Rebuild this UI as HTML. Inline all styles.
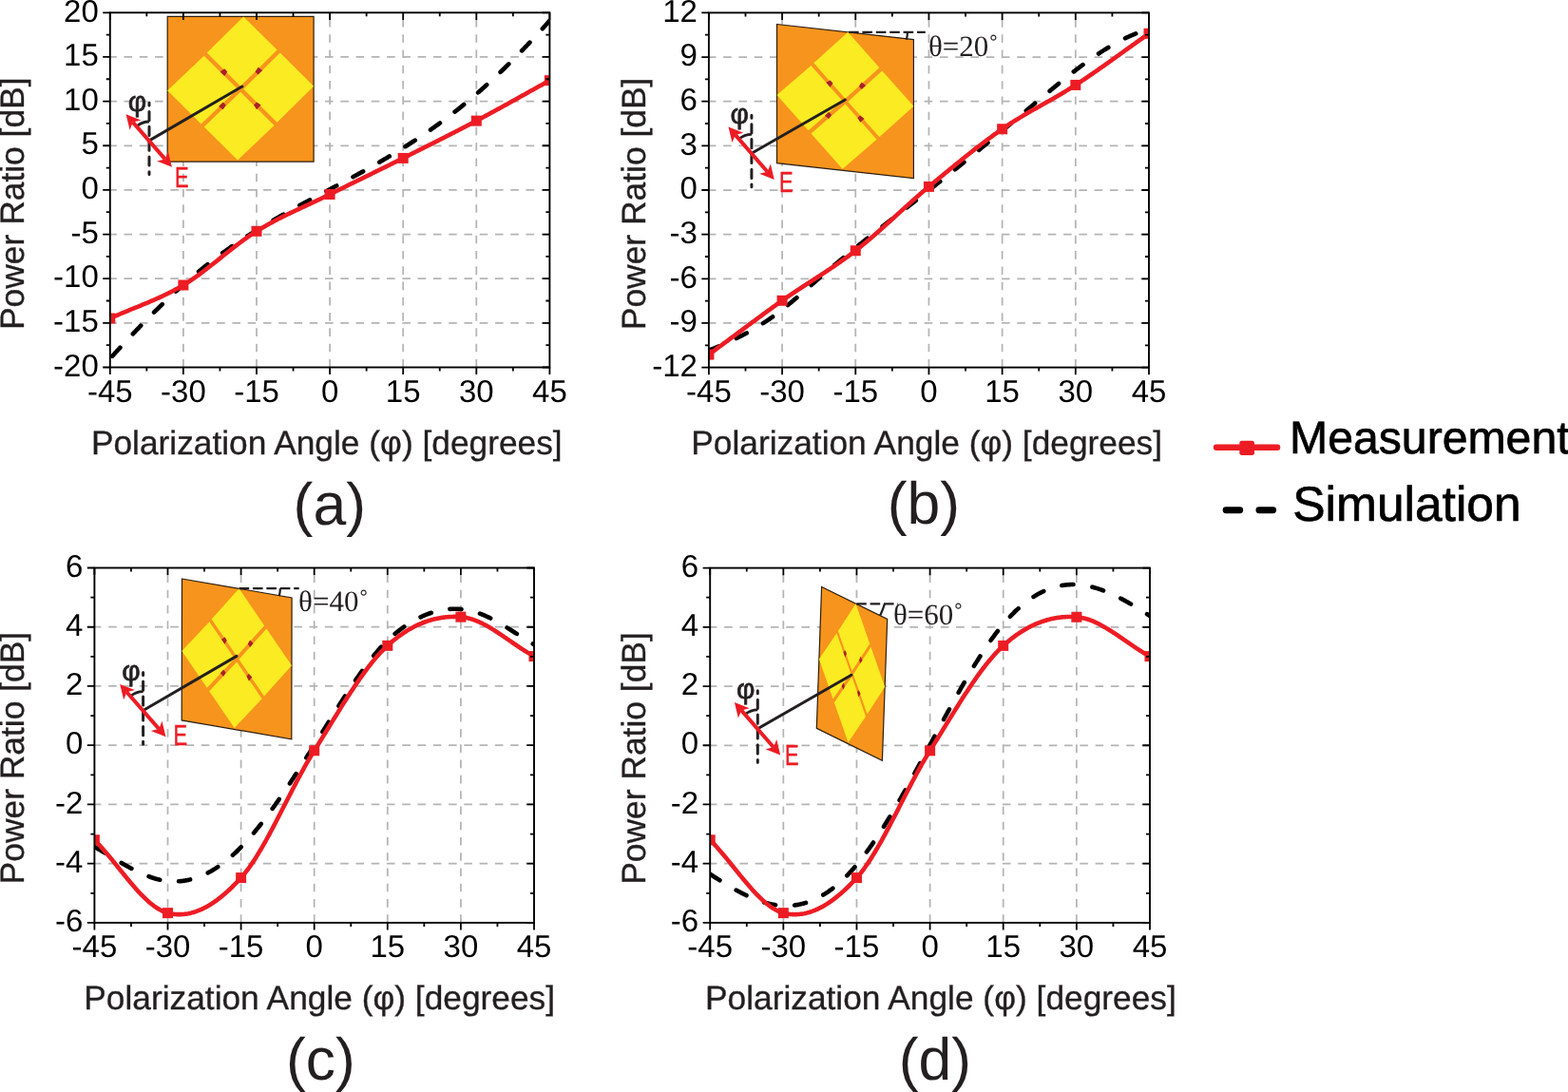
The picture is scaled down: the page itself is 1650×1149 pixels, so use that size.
<!DOCTYPE html><html><head><meta charset="utf-8"><title>Power ratio vs polarization angle</title><style>html,body{margin:0;padding:0;background:#fff;overflow:hidden;}text{text-rendering:geometricPrecision;}svg{display:block;}.t{font-family:"Liberation Sans",Arial,sans-serif;}.s{font-family:"Liberation Serif","Times New Roman",serif;}</style></head><body>
<svg width="1650" height="1149" viewBox="0 0 1650 1149">
<rect width="1650" height="1149" fill="#fff"/>
<defs>
<clipPath id="cpa"><rect x="115.8" y="13.3" width="462.6" height="373.2"/></clipPath>
<clipPath id="cpb"><rect x="745.9" y="13.4" width="463.1" height="373.2"/></clipPath>
<clipPath id="cpc"><rect x="99.4" y="597.5" width="462.6" height="373.4"/></clipPath>
<clipPath id="cpd"><rect x="747.2" y="597.6" width="462.8" height="373.3"/></clipPath>
</defs>
<path d="M578.4 339.85H115.8M578.4 293.2H115.8M578.4 246.55H115.8M578.4 199.9H115.8M578.4 153.25H115.8M578.4 106.6H115.8M578.4 59.95H115.8M192.9 386.5V13.3M270 386.5V13.3M347.1 386.5V13.3M424.2 386.5V13.3M501.3 386.5V13.3" stroke="#B4B4B4" stroke-width="1.75" stroke-dasharray="8.6 7.67" fill="none"/>
<g transform="matrix(153.9 0 0 152.7 176.2 17.4)"><path d="M0 0H1V1H0Z" fill="#F7941D" stroke="#2b1d10" stroke-width="1.2" vector-effect="non-scaling-stroke"/><path d="M0.52 -0 L0.75 0.23 L0.5 0.48 L0.27 0.25 Z" fill="#FBEB22"/><path d="M0.25 0.27 L0.48 0.5 L0.23 0.74 L0 0.51 Z" fill="#FBEB22"/><path d="M0.77 0.25 L1 0.48 L0.75 0.73 L0.52 0.5 Z" fill="#FBEB22"/><path d="M0.5 0.52 L0.73 0.75 L0.48 0.99 L0.25 0.76 Z" fill="#FBEB22"/><path d="M0.39 0.36 L0.41 0.38 L0.39 0.41 L0.36 0.38 Z" fill="#A8202A"/><path d="M0.65 0.37 L0.62 0.4 L0.6 0.38 L0.62 0.35 Z" fill="#A8202A"/><path d="M0.35 0.62 L0.38 0.59 L0.4 0.61 L0.38 0.64 Z" fill="#A8202A"/><path d="M0.61 0.64 L0.59 0.61 L0.61 0.59 L0.64 0.61 Z" fill="#A8202A"/></g>
<line x1="158" y1="147.4" x2="254.8" y2="91" stroke="#231F20" stroke-width="3.0" stroke-linecap="round"/><line x1="157" y1="108" x2="157" y2="183.4" stroke="#231F20" stroke-width="3.0" stroke-linecap="round" stroke-dasharray="9.2 6.6" stroke-dashoffset="6.3"/><path d="M143.78 132.99 A20 20 0 0 1 157 128" fill="none" stroke="#231F20" stroke-width="2.8"/><line x1="139.83" y1="128.59" x2="173.67" y2="167.41" stroke="#ED1C24" stroke-width="4.0"/><path d="M132.6 120.3L136.58 136.73L139.83 128.59L148.34 126.48Z" fill="#ED1C24"/><path d="M180.9 175.7L165.16 169.52L173.67 167.41L176.92 159.27Z" fill="#ED1C24"/><text class="t" x="134.7" y="116.6" font-size="30" fill="#231F20" stroke="#231F20" stroke-width="0.7">φ</text><text class="t" transform="translate(184 196.5) scale(0.72 1)" font-size="30.5" fill="#ED1C24" stroke="#ED1C24" stroke-width="0.45">E</text>
<g clip-path="url(#cpa)">
<polyline points="115.8,377.36 116.57,376.51 117.34,375.65 118.11,374.8 118.88,373.95 119.66,373.1 120.43,372.26 121.2,371.41 121.97,370.56 122.74,369.72 123.51,368.88 124.28,368.04 125.05,367.2 125.82,366.36 126.59,365.52 127.36,364.69 128.14,363.85 128.91,363.02 129.68,362.19 130.45,361.36 131.22,360.53 131.99,359.7 132.76,358.87 133.53,358.05 134.3,357.23 135.07,356.41 135.85,355.59 136.62,354.77 137.39,353.95 138.16,353.13 138.93,352.32 139.7,351.51 140.47,350.7 141.24,349.89 142.01,349.08 142.78,348.27 143.56,347.47 144.33,346.66 145.1,345.86 145.87,345.06 146.64,344.26 147.41,343.46 148.18,342.67 148.95,341.87 149.72,341.08 150.5,340.29 151.27,339.5 152.04,338.71 152.81,337.93 153.58,337.14 154.35,336.36 155.12,335.58 155.89,334.8 156.66,334.02 157.43,333.25 158.2,332.47 158.98,331.7 159.75,330.93 160.52,330.16 161.29,329.4 162.06,328.63 162.83,327.87 163.6,327.11 164.37,326.35 165.14,325.59 165.91,324.83 166.69,324.08 167.46,323.33 168.23,322.58 169,321.83 169.77,321.08 170.54,320.34 171.31,319.59 172.08,318.85 172.85,318.11 173.62,317.38 174.4,316.64 175.17,315.91 175.94,315.18 176.71,314.45 177.48,313.72 178.25,312.99 179.02,312.27 179.79,311.55 180.56,310.83 181.33,310.11 182.11,309.4 182.88,308.68 183.65,307.97 184.42,307.26 185.19,306.55 185.96,305.85 186.73,305.15 187.5,304.44 188.27,303.75 189.04,303.05 189.82,302.35 190.59,301.66 191.36,300.97 192.13,300.28 192.9,299.6 193.67,298.91 194.44,298.23 195.21,297.55 195.98,296.87 196.75,296.2 197.53,295.52 198.3,294.85 199.07,294.19 199.84,293.52 200.61,292.86 201.38,292.19 202.15,291.53 202.92,290.88 203.69,290.22 204.46,289.57 205.24,288.92 206.01,288.27 206.78,287.62 207.55,286.98 208.32,286.34 209.09,285.7 209.86,285.07 210.63,284.43 211.4,283.8 212.18,283.17 212.95,282.54 213.72,281.92 214.49,281.3 215.26,280.68 216.03,280.06 216.8,279.45 217.57,278.83 218.34,278.23 219.11,277.62 219.88,277.01 220.66,276.41 221.43,275.81 222.2,275.21 222.97,274.62 223.74,274.03 224.51,273.44 225.28,272.85 226.05,272.26 226.82,271.68 227.59,271.1 228.37,270.52 229.14,269.94 229.91,269.37 230.68,268.8 231.45,268.23 232.22,267.66 232.99,267.09 233.76,266.53 234.53,265.97 235.3,265.41 236.08,264.85 236.85,264.3 237.62,263.75 238.39,263.19 239.16,262.65 239.93,262.1 240.7,261.56 241.47,261.01 242.24,260.47 243.01,259.93 243.79,259.4 244.56,258.86 245.33,258.33 246.1,257.8 246.87,257.27 247.64,256.75 248.41,256.22 249.18,255.7 249.95,255.18 250.73,254.66 251.5,254.14 252.27,253.62 253.04,253.11 253.81,252.6 254.58,252.09 255.35,251.58 256.12,251.07 256.89,250.57 257.66,250.07 258.44,249.56 259.21,249.06 259.98,248.57 260.75,248.07 261.52,247.57 262.29,247.08 263.06,246.59 263.83,246.1 264.6,245.61 265.37,245.12 266.14,244.64 266.92,244.15 267.69,243.67 268.46,243.19 269.23,242.71 270,242.23 270.77,241.75 271.54,241.28 272.31,240.81 273.08,240.33 273.85,239.86 274.63,239.39 275.4,238.92 276.17,238.46 276.94,237.99 277.71,237.53 278.48,237.06 279.25,236.6 280.02,236.14 280.79,235.68 281.56,235.23 282.34,234.77 283.11,234.31 283.88,233.86 284.65,233.41 285.42,232.95 286.19,232.5 286.96,232.05 287.73,231.6 288.5,231.16 289.27,230.71 290.05,230.26 290.82,229.82 291.59,229.38 292.36,228.93 293.13,228.49 293.9,228.05 294.67,227.61 295.44,227.18 296.21,226.74 296.99,226.3 297.76,225.87 298.53,225.43 299.3,225 300.07,224.56 300.84,224.13 301.61,223.7 302.38,223.27 303.15,222.84 303.92,222.41 304.69,221.98 305.47,221.56 306.24,221.13 307.01,220.7 307.78,220.28 308.55,219.85 309.32,219.43 310.09,219.01 310.86,218.59 311.63,218.16 312.4,217.74 313.18,217.32 313.95,216.9 314.72,216.48 315.49,216.06 316.26,215.65 317.03,215.23 317.8,214.81 318.57,214.4 319.34,213.98 320.12,213.56 320.89,213.15 321.66,212.73 322.43,212.32 323.2,211.91 323.97,211.49 324.74,211.08 325.51,210.67 326.28,210.25 327.05,209.84 327.82,209.43 328.6,209.02 329.37,208.61 330.14,208.2 330.91,207.79 331.68,207.38 332.45,206.97 333.22,206.56 333.99,206.15 334.76,205.74 335.53,205.33 336.31,204.92 337.08,204.51 337.85,204.1 338.62,203.69 339.39,203.28 340.16,202.87 340.93,202.46 341.7,202.06 342.47,201.65 343.25,201.24 344.02,200.83 344.79,200.42 345.56,200.01 346.33,199.61 347.1,199.2 347.87,198.79 348.64,198.38 349.41,197.97 350.18,197.56 350.95,197.15 351.73,196.74 352.5,196.33 353.27,195.92 354.04,195.51 354.81,195.1 355.58,194.69 356.35,194.28 357.12,193.87 357.89,193.46 358.66,193.05 359.44,192.64 360.21,192.23 360.98,191.81 361.75,191.4 362.52,190.99 363.29,190.58 364.06,190.16 364.83,189.75 365.6,189.33 366.38,188.92 367.15,188.5 367.92,188.09 368.69,187.67 369.46,187.25 370.23,186.84 371,186.42 371.77,186 372.54,185.58 373.31,185.16 374.08,184.74 374.86,184.32 375.63,183.9 376.4,183.48 377.17,183.06 377.94,182.63 378.71,182.21 379.48,181.78 380.25,181.36 381.02,180.93 381.8,180.51 382.57,180.08 383.34,179.65 384.11,179.22 384.88,178.79 385.65,178.36 386.42,177.93 387.19,177.5 387.96,177.07 388.73,176.63 389.5,176.2 390.28,175.77 391.05,175.33 391.82,174.89 392.59,174.46 393.36,174.02 394.13,173.58 394.9,173.14 395.67,172.7 396.44,172.26 397.21,171.81 397.99,171.37 398.76,170.92 399.53,170.48 400.3,170.03 401.07,169.58 401.84,169.14 402.61,168.69 403.38,168.24 404.15,167.78 404.92,167.33 405.7,166.88 406.47,166.42 407.24,165.97 408.01,165.51 408.78,165.05 409.55,164.6 410.32,164.14 411.09,163.67 411.86,163.21 412.63,162.75 413.41,162.28 414.18,161.82 414.95,161.35 415.72,160.88 416.49,160.41 417.26,159.94 418.03,159.47 418.8,159 419.57,158.52 420.35,158.05 421.12,157.57 421.89,157.09 422.66,156.62 423.43,156.14 424.2,155.65 424.97,155.17 425.74,154.69 426.51,154.2 427.28,153.71 428.06,153.22 428.83,152.73 429.6,152.24 430.37,151.75 431.14,151.26 431.91,150.76 432.68,150.26 433.45,149.77 434.22,149.27 434.99,148.76 435.76,148.26 436.54,147.76 437.31,147.25 438.08,146.74 438.85,146.24 439.62,145.72 440.39,145.21 441.16,144.7 441.93,144.18 442.7,143.67 443.47,143.15 444.25,142.63 445.02,142.11 445.79,141.59 446.56,141.06 447.33,140.53 448.1,140.01 448.87,139.48 449.64,138.95 450.41,138.41 451.19,137.88 451.96,137.34 452.73,136.8 453.5,136.26 454.27,135.72 455.04,135.18 455.81,134.63 456.58,134.09 457.35,133.54 458.12,132.99 458.89,132.44 459.67,131.88 460.44,131.33 461.21,130.77 461.98,130.21 462.75,129.65 463.52,129.08 464.29,128.52 465.06,127.95 465.83,127.38 466.6,126.81 467.38,126.24 468.15,125.66 468.92,125.09 469.69,124.51 470.46,123.93 471.23,123.34 472,122.76 472.77,122.17 473.54,121.58 474.31,120.99 475.09,120.4 475.86,119.81 476.63,119.21 477.4,118.61 478.17,118.01 478.94,117.41 479.71,116.8 480.48,116.19 481.25,115.58 482.03,114.97 482.8,114.36 483.57,113.74 484.34,113.12 485.11,112.5 485.88,111.88 486.65,111.25 487.42,110.63 488.19,110 488.96,109.37 489.73,108.73 490.51,108.1 491.28,107.46 492.05,106.82 492.82,106.17 493.59,105.53 494.36,104.88 495.13,104.23 495.9,103.58 496.67,102.93 497.44,102.27 498.22,101.61 498.99,100.95 499.76,100.29 500.53,99.62 501.3,98.95 502.07,98.28 502.84,97.61 503.61,96.94 504.38,96.26 505.15,95.58 505.93,94.9 506.7,94.22 507.47,93.54 508.24,92.85 509.01,92.16 509.78,91.47 510.55,90.77 511.32,90.08 512.09,89.38 512.87,88.68 513.64,87.98 514.41,87.27 515.18,86.57 515.95,85.86 516.72,85.15 517.49,84.43 518.26,83.72 519.03,83 519.8,82.28 520.57,81.56 521.35,80.84 522.12,80.11 522.89,79.38 523.66,78.65 524.43,77.92 525.2,77.19 525.97,76.45 526.74,75.71 527.51,74.97 528.28,74.23 529.06,73.49 529.83,72.74 530.6,71.99 531.37,71.24 532.14,70.49 532.91,69.73 533.68,68.98 534.45,68.22 535.22,67.46 535.99,66.69 536.77,65.93 537.54,65.16 538.31,64.39 539.08,63.62 539.85,62.85 540.62,62.08 541.39,61.3 542.16,60.52 542.93,59.74 543.7,58.96 544.48,58.17 545.25,57.38 546.02,56.6 546.79,55.8 547.56,55.01 548.33,54.22 549.1,53.42 549.87,52.62 550.64,51.82 551.41,51.02 552.19,50.21 552.96,49.41 553.73,48.6 554.5,47.79 555.27,46.98 556.04,46.16 556.81,45.35 557.58,44.53 558.35,43.71 559.12,42.89 559.9,42.06 560.67,41.24 561.44,40.41 562.21,39.58 562.98,38.75 563.75,37.91 564.52,37.08 565.29,36.24 566.06,35.4 566.83,34.56 567.61,33.72 568.38,32.87 569.15,32.03 569.92,31.18 570.69,30.33 571.46,29.48 572.23,28.62 573,27.77 573.77,26.91 574.54,26.05 575.32,25.19 576.09,24.33 576.86,23.46 577.63,22.6 578.4,21.73" fill="none" stroke="#000" stroke-width="4.6" stroke-linecap="round" stroke-linejoin="round" stroke-dasharray="12.2 19.62" stroke-dashoffset="-3.57"/>
<polyline points="115.8,335 117.08,334.42 118.37,333.84 119.66,333.27 120.94,332.71 122.22,332.15 123.51,331.6 124.8,331.05 126.08,330.5 127.36,329.96 128.65,329.42 129.94,328.88 131.22,328.35 132.5,327.82 133.79,327.29 135.07,326.76 136.36,326.24 137.64,325.71 138.93,325.19 140.22,324.66 141.5,324.14 142.78,323.62 144.07,323.1 145.35,322.57 146.64,322.05 147.93,321.52 149.21,320.99 150.5,320.46 151.78,319.93 153.06,319.4 154.35,318.86 155.63,318.32 156.92,317.78 158.2,317.23 159.49,316.68 160.77,316.13 162.06,315.57 163.34,315.01 164.63,314.44 165.91,313.86 167.2,313.28 168.48,312.7 169.77,312.1 171.06,311.51 172.34,310.9 173.62,310.29 174.91,309.67 176.19,309.04 177.48,308.4 178.76,307.75 180.05,307.1 181.33,306.44 182.62,305.76 183.91,305.08 185.19,304.39 186.47,303.69 187.76,302.97 189.04,302.25 190.33,301.52 191.62,300.77 192.9,300.01 194.19,299.24 195.47,298.45 196.75,297.64 198.04,296.82 199.32,295.99 200.61,295.14 201.89,294.27 203.18,293.4 204.46,292.51 205.75,291.61 207.03,290.69 208.32,289.77 209.6,288.84 210.89,287.89 212.18,286.94 213.46,285.98 214.75,285 216.03,284.03 217.31,283.04 218.6,282.05 219.88,281.05 221.17,280.05 222.45,279.04 223.74,278.03 225.02,277.01 226.31,275.99 227.59,274.97 228.88,273.94 230.16,272.91 231.45,271.89 232.74,270.86 234.02,269.83 235.3,268.8 236.59,267.78 237.88,266.75 239.16,265.73 240.44,264.71 241.73,263.69 243.01,262.68 244.3,261.67 245.58,260.67 246.87,259.67 248.15,258.68 249.44,257.69 250.73,256.72 252.01,255.75 253.3,254.78 254.58,253.83 255.87,252.89 257.15,251.95 258.44,251.03 259.72,250.12 261,249.22 262.29,248.33 263.57,247.45 264.86,246.59 266.14,245.74 267.43,244.91 268.71,244.09 270,243.28 271.28,242.49 272.57,241.71 273.85,240.94 275.14,240.18 276.42,239.42 277.71,238.67 279,237.94 280.28,237.21 281.56,236.48 282.85,235.77 284.13,235.06 285.42,234.36 286.7,233.67 287.99,232.98 289.27,232.3 290.56,231.63 291.84,230.96 293.13,230.3 294.41,229.64 295.7,228.99 296.99,228.35 298.27,227.7 299.55,227.07 300.84,226.43 302.12,225.8 303.41,225.18 304.69,224.56 305.98,223.94 307.26,223.32 308.55,222.71 309.83,222.1 311.12,221.49 312.4,220.89 313.69,220.29 314.98,219.68 316.26,219.08 317.55,218.48 318.83,217.89 320.12,217.29 321.4,216.69 322.68,216.09 323.97,215.5 325.25,214.9 326.54,214.3 327.82,213.7 329.11,213.1 330.39,212.5 331.68,211.9 332.96,211.3 334.25,210.69 335.53,210.08 336.82,209.47 338.1,208.86 339.39,208.24 340.68,207.62 341.96,207 343.25,206.37 344.53,205.74 345.81,205.11 347.1,204.47 348.38,203.83 349.67,203.19 350.95,202.55 352.24,201.91 353.52,201.28 354.81,200.64 356.09,200 357.38,199.37 358.66,198.73 359.95,198.1 361.23,197.46 362.52,196.83 363.8,196.2 365.09,195.56 366.38,194.93 367.66,194.3 368.94,193.67 370.23,193.04 371.51,192.4 372.8,191.77 374.08,191.14 375.37,190.51 376.65,189.88 377.94,189.25 379.23,188.62 380.51,187.99 381.8,187.36 383.08,186.73 384.37,186.1 385.65,185.47 386.94,184.84 388.22,184.21 389.5,183.58 390.79,182.95 392.07,182.31 393.36,181.68 394.64,181.05 395.93,180.42 397.21,179.79 398.5,179.16 399.78,178.52 401.07,177.89 402.35,177.26 403.64,176.62 404.92,175.99 406.21,175.36 407.5,174.72 408.78,174.08 410.06,173.45 411.35,172.81 412.63,172.17 413.92,171.54 415.2,170.9 416.49,170.26 417.77,169.62 419.06,168.98 420.35,168.34 421.63,167.69 422.92,167.05 424.2,166.41 425.49,165.76 426.77,165.12 428.06,164.47 429.34,163.83 430.62,163.18 431.91,162.54 433.19,161.9 434.48,161.25 435.76,160.61 437.05,159.97 438.33,159.32 439.62,158.68 440.9,158.03 442.19,157.39 443.47,156.75 444.76,156.1 446.05,155.46 447.33,154.81 448.62,154.17 449.9,153.52 451.19,152.87 452.47,152.23 453.75,151.58 455.04,150.93 456.32,150.29 457.61,149.64 458.89,148.99 460.18,148.34 461.46,147.69 462.75,147.04 464.03,146.39 465.32,145.74 466.6,145.09 467.89,144.43 469.17,143.78 470.46,143.12 471.75,142.47 473.03,141.81 474.31,141.16 475.6,140.5 476.88,139.84 478.17,139.18 479.45,138.52 480.74,137.86 482.03,137.2 483.31,136.53 484.59,135.87 485.88,135.2 487.17,134.54 488.45,133.87 489.73,133.2 491.02,132.53 492.31,131.86 493.59,131.19 494.88,130.51 496.16,129.84 497.44,129.16 498.73,128.49 500.01,127.81 501.3,127.13 502.58,126.44 503.87,125.76 505.15,125.07 506.44,124.39 507.73,123.7 509.01,123.01 510.29,122.32 511.58,121.62 512.87,120.93 514.15,120.23 515.43,119.54 516.72,118.84 518,118.14 519.29,117.44 520.57,116.74 521.86,116.03 523.14,115.33 524.43,114.62 525.71,113.92 527,113.21 528.28,112.5 529.57,111.79 530.85,111.08 532.14,110.37 533.42,109.66 534.71,108.95 535.99,108.24 537.28,107.53 538.56,106.81 539.85,106.1 541.13,105.38 542.42,104.67 543.7,103.95 544.99,103.24 546.27,102.52 547.56,101.81 548.84,101.09 550.13,100.38 551.41,99.66 552.7,98.94 553.98,98.23 555.27,97.51 556.55,96.79 557.84,96.08 559.12,95.36 560.41,94.65 561.69,93.93 562.98,93.22 564.26,92.5 565.55,91.79 566.83,91.07 568.12,90.36 569.4,89.65 570.69,88.93 571.98,88.22 573.26,87.51 574.54,86.8 575.83,86.09 577.12,85.38 578.4,84.67" fill="none" stroke="#ED1C24" stroke-width="4.6" stroke-linejoin="round"/>
<rect x="110.3" y="329.5" width="11" height="11" fill="#ED1C24"/>
<rect x="187.4" y="294.51" width="11" height="11" fill="#ED1C24"/>
<rect x="264.5" y="237.78" width="11" height="11" fill="#ED1C24"/>
<rect x="341.6" y="198.97" width="11" height="11" fill="#ED1C24"/>
<rect x="418.7" y="160.91" width="11" height="11" fill="#ED1C24"/>
<rect x="495.8" y="121.63" width="11" height="11" fill="#ED1C24"/>
<rect x="572.9" y="79.17" width="11" height="11" fill="#ED1C24"/>
</g>
<path d="M115.8 386.5v7.6M115.8 13.3v7.6M154.35 386.5v4M154.35 13.3v4M192.9 386.5v7.6M192.9 13.3v7.6M231.45 386.5v4M231.45 13.3v4M270 386.5v7.6M270 13.3v7.6M308.55 386.5v4M308.55 13.3v4M347.1 386.5v7.6M347.1 13.3v7.6M385.65 386.5v4M385.65 13.3v4M424.2 386.5v7.6M424.2 13.3v7.6M462.75 386.5v4M462.75 13.3v4M501.3 386.5v7.6M501.3 13.3v7.6M539.85 386.5v4M539.85 13.3v4M578.4 386.5v7.6M578.4 13.3v7.6M115.8 386.5h-7.6M578.4 386.5h-7.6M115.8 363.18h-4M578.4 363.18h-4M115.8 339.85h-7.6M578.4 339.85h-7.6M115.8 316.52h-4M578.4 316.52h-4M115.8 293.2h-7.6M578.4 293.2h-7.6M115.8 269.88h-4M578.4 269.88h-4M115.8 246.55h-7.6M578.4 246.55h-7.6M115.8 223.22h-4M578.4 223.22h-4M115.8 199.9h-7.6M578.4 199.9h-7.6M115.8 176.57h-4M578.4 176.57h-4M115.8 153.25h-7.6M578.4 153.25h-7.6M115.8 129.93h-4M578.4 129.93h-4M115.8 106.6h-7.6M578.4 106.6h-7.6M115.8 83.27h-4M578.4 83.27h-4M115.8 59.95h-7.6M578.4 59.95h-7.6M115.8 36.62h-4M578.4 36.62h-4M115.8 13.3h-7.6M578.4 13.3h-7.6" stroke="#000" stroke-width="1.8" fill="none"/>
<rect x="115.8" y="13.3" width="462.6" height="373.2" fill="none" stroke="#000" stroke-width="1.9"/>
<g class="t" font-size="33" fill="#000"><text x="115.8" y="423" text-anchor="middle">-45</text><text x="192.9" y="423" text-anchor="middle">-30</text><text x="270" y="423" text-anchor="middle">-15</text><text x="347.1" y="423" text-anchor="middle">0</text><text x="424.2" y="423" text-anchor="middle">15</text><text x="501.3" y="423" text-anchor="middle">30</text><text x="578.4" y="423" text-anchor="middle">45</text><text x="103.8" y="395.7" text-anchor="end">-20</text><text x="103.8" y="349.05" text-anchor="end">-15</text><text x="103.8" y="302.4" text-anchor="end">-10</text><text x="103.8" y="255.75" text-anchor="end">-5</text><text x="103.8" y="209.1" text-anchor="end">0</text><text x="103.8" y="162.45" text-anchor="end">5</text><text x="103.8" y="115.8" text-anchor="end">10</text><text x="103.8" y="69.15" text-anchor="end">15</text><text x="103.8" y="22.5" text-anchor="end">20</text></g>
<path d="M1209 339.95H745.9M1209 293.3H745.9M1209 246.65H745.9M1209 200H745.9M1209 153.35H745.9M1209 106.7H745.9M1209 60.05H745.9M823.08 386.6V13.4M900.27 386.6V13.4M977.45 386.6V13.4M1054.63 386.6V13.4M1131.82 386.6V13.4" stroke="#B4B4B4" stroke-width="1.75" stroke-dasharray="8.6 7.67" fill="none"/>
<g transform="matrix(143.9 16.1 0 146.1 817.5 25.5)"><path d="M0 0H1V1H0Z" fill="#F7941D" stroke="#2b1d10" stroke-width="1.2" vector-effect="non-scaling-stroke"/><path d="M0.52 -0 L0.75 0.23 L0.5 0.48 L0.27 0.25 Z" fill="#FBEB22"/><path d="M0.25 0.27 L0.48 0.5 L0.23 0.74 L0 0.51 Z" fill="#FBEB22"/><path d="M0.77 0.25 L1 0.48 L0.75 0.73 L0.52 0.5 Z" fill="#FBEB22"/><path d="M0.5 0.52 L0.73 0.75 L0.48 0.99 L0.25 0.76 Z" fill="#FBEB22"/><path d="M0.39 0.36 L0.41 0.38 L0.39 0.41 L0.36 0.38 Z" fill="#A8202A"/><path d="M0.65 0.37 L0.62 0.4 L0.6 0.38 L0.62 0.35 Z" fill="#A8202A"/><path d="M0.35 0.62 L0.38 0.59 L0.4 0.61 L0.38 0.64 Z" fill="#A8202A"/><path d="M0.61 0.64 L0.59 0.61 L0.61 0.59 L0.64 0.61 Z" fill="#A8202A"/></g>
<line x1="791.9" y1="160.7" x2="889.3" y2="105" stroke="#231F20" stroke-width="3.0" stroke-linecap="round"/><line x1="790.9" y1="121.3" x2="790.9" y2="196.7" stroke="#231F20" stroke-width="3.0" stroke-linecap="round" stroke-dasharray="9.2 6.6" stroke-dashoffset="6.3"/><path d="M777.68 146.29 A20 20 0 0 1 790.9 141.3" fill="none" stroke="#231F20" stroke-width="2.8"/><line x1="773.73" y1="141.89" x2="807.57" y2="180.71" stroke="#ED1C24" stroke-width="4.0"/><path d="M766.5 133.6L770.48 150.03L773.73 141.89L782.24 139.78Z" fill="#ED1C24"/><path d="M814.8 189L799.06 182.82L807.57 180.71L810.82 172.57Z" fill="#ED1C24"/><text class="t" x="768.6" y="129.9" font-size="30" fill="#231F20" stroke="#231F20" stroke-width="0.7">φ</text><text class="t" transform="translate(819.9 202) scale(0.72 1)" font-size="30.5" fill="#ED1C24" stroke="#ED1C24" stroke-width="0.45">E</text><line x1="893" y1="33.9" x2="973.8" y2="33.9" stroke="#231F20" stroke-width="2.2" stroke-dasharray="10.6 3.8"/><path d="M954.9 33.9 Q954.95 37.8 953.8 41.7" fill="none" stroke="#231F20" stroke-width="2.2"/><text class="s" x="977" y="58.7" font-size="31" fill="#231F20">θ=20˚</text>
<g clip-path="url(#cpb)">
<polyline points="745.9,368.67 746.67,368.37 747.44,368.06 748.22,367.75 748.99,367.44 749.76,367.13 750.53,366.82 751.3,366.51 752.07,366.19 752.85,365.87 753.62,365.56 754.39,365.24 755.16,364.91 755.93,364.59 756.71,364.27 757.48,363.94 758.25,363.61 759.02,363.28 759.79,362.95 760.56,362.61 761.34,362.27 762.11,361.93 762.88,361.59 763.65,361.25 764.42,360.91 765.2,360.56 765.97,360.21 766.74,359.86 767.51,359.5 768.28,359.15 769.05,358.79 769.83,358.43 770.6,358.06 771.37,357.7 772.14,357.33 772.91,356.96 773.69,356.58 774.46,356.21 775.23,355.83 776,355.45 776.77,355.06 777.55,354.68 778.32,354.29 779.09,353.9 779.86,353.5 780.63,353.1 781.4,352.7 782.18,352.3 782.95,351.89 783.72,351.48 784.49,351.07 785.26,350.65 786.04,350.23 786.81,349.81 787.58,349.38 788.35,348.95 789.12,348.52 789.89,348.09 790.67,347.65 791.44,347.21 792.21,346.76 792.98,346.31 793.75,345.86 794.53,345.4 795.3,344.94 796.07,344.48 796.84,344.01 797.61,343.54 798.38,343.07 799.16,342.59 799.93,342.11 800.7,341.63 801.47,341.14 802.24,340.64 803.02,340.15 803.79,339.65 804.56,339.14 805.33,338.63 806.1,338.12 806.87,337.6 807.65,337.08 808.42,336.56 809.19,336.03 809.96,335.5 810.73,334.96 811.51,334.42 812.28,333.87 813.05,333.32 813.82,332.76 814.59,332.2 815.37,331.64 816.14,331.07 816.91,330.5 817.68,329.92 818.45,329.34 819.22,328.76 820,328.17 820.77,327.58 821.54,326.98 822.31,326.38 823.08,325.78 823.86,325.17 824.63,324.56 825.4,323.95 826.17,323.33 826.94,322.71 827.71,322.09 828.49,321.46 829.26,320.83 830.03,320.2 830.8,319.57 831.57,318.93 832.35,318.29 833.12,317.65 833.89,317.01 834.66,316.36 835.43,315.71 836.2,315.06 836.98,314.41 837.75,313.76 838.52,313.1 839.29,312.44 840.06,311.78 840.84,311.12 841.61,310.46 842.38,309.79 843.15,309.13 843.92,308.46 844.69,307.79 845.47,307.12 846.24,306.45 847.01,305.78 847.78,305.11 848.55,304.44 849.33,303.77 850.1,303.09 850.87,302.42 851.64,301.75 852.41,301.07 853.18,300.4 853.96,299.72 854.73,299.05 855.5,298.37 856.27,297.7 857.04,297.03 857.82,296.35 858.59,295.68 859.36,295.01 860.13,294.33 860.9,293.66 861.67,292.99 862.45,292.32 863.22,291.65 863.99,290.98 864.76,290.32 865.53,289.65 866.31,288.99 867.08,288.32 867.85,287.66 868.62,287 869.39,286.34 870.17,285.68 870.94,285.03 871.71,284.37 872.48,283.71 873.25,283.06 874.02,282.41 874.8,281.75 875.57,281.1 876.34,280.45 877.11,279.81 877.88,279.16 878.66,278.51 879.43,277.87 880.2,277.22 880.97,276.58 881.74,275.93 882.51,275.29 883.29,274.65 884.06,274.01 884.83,273.37 885.6,272.74 886.37,272.1 887.15,271.46 887.92,270.83 888.69,270.19 889.46,269.56 890.23,268.93 891,268.3 891.78,267.66 892.55,267.03 893.32,266.4 894.09,265.78 894.86,265.15 895.64,264.52 896.41,263.9 897.18,263.27 897.95,262.65 898.72,262.02 899.49,261.4 900.27,260.78 901.04,260.15 901.81,259.53 902.58,258.91 903.35,258.29 904.13,257.67 904.9,257.06 905.67,256.44 906.44,255.82 907.21,255.21 907.99,254.59 908.76,253.97 909.53,253.36 910.3,252.75 911.07,252.13 911.84,251.52 912.62,250.91 913.39,250.29 914.16,249.68 914.93,249.07 915.7,248.46 916.48,247.85 917.25,247.24 918.02,246.63 918.79,246.03 919.56,245.42 920.33,244.81 921.11,244.2 921.88,243.6 922.65,242.99 923.42,242.38 924.19,241.78 924.97,241.17 925.74,240.57 926.51,239.96 927.28,239.36 928.05,238.75 928.82,238.15 929.6,237.55 930.37,236.94 931.14,236.34 931.91,235.74 932.68,235.14 933.46,234.53 934.23,233.93 935,233.33 935.77,232.73 936.54,232.13 937.31,231.53 938.09,230.93 938.86,230.33 939.63,229.72 940.4,229.12 941.17,228.52 941.95,227.92 942.72,227.32 943.49,226.72 944.26,226.12 945.03,225.52 945.8,224.92 946.58,224.32 947.35,223.72 948.12,223.12 948.89,222.53 949.66,221.93 950.44,221.33 951.21,220.73 951.98,220.13 952.75,219.53 953.52,218.93 954.29,218.33 955.07,217.73 955.84,217.13 956.61,216.53 957.38,215.93 958.15,215.33 958.93,214.73 959.7,214.13 960.47,213.52 961.24,212.92 962.01,212.32 962.79,211.72 963.56,211.12 964.33,210.52 965.1,209.92 965.87,209.31 966.64,208.71 967.42,208.11 968.19,207.51 968.96,206.9 969.73,206.3 970.5,205.7 971.28,205.09 972.05,204.49 972.82,203.88 973.59,203.28 974.36,202.67 975.13,202.07 975.91,201.46 976.68,200.86 977.45,200.25 978.22,199.64 978.99,199.03 979.77,198.43 980.54,197.82 981.31,197.21 982.08,196.6 982.85,195.99 983.62,195.38 984.4,194.77 985.17,194.16 985.94,193.54 986.71,192.93 987.48,192.32 988.26,191.71 989.03,191.09 989.8,190.48 990.57,189.86 991.34,189.25 992.11,188.63 992.89,188.02 993.66,187.4 994.43,186.78 995.2,186.17 995.97,185.55 996.75,184.93 997.52,184.31 998.29,183.69 999.06,183.07 999.83,182.45 1000.61,181.83 1001.38,181.21 1002.15,180.59 1002.92,179.97 1003.69,179.35 1004.46,178.72 1005.24,178.1 1006.01,177.48 1006.78,176.85 1007.55,176.23 1008.32,175.6 1009.1,174.98 1009.87,174.35 1010.64,173.73 1011.41,173.1 1012.18,172.48 1012.95,171.85 1013.73,171.22 1014.5,170.6 1015.27,169.97 1016.04,169.34 1016.81,168.71 1017.59,168.08 1018.36,167.45 1019.13,166.82 1019.9,166.19 1020.67,165.56 1021.44,164.93 1022.22,164.3 1022.99,163.67 1023.76,163.04 1024.53,162.41 1025.3,161.77 1026.08,161.14 1026.85,160.51 1027.62,159.88 1028.39,159.24 1029.16,158.61 1029.93,157.97 1030.71,157.34 1031.48,156.71 1032.25,156.07 1033.02,155.44 1033.79,154.8 1034.57,154.16 1035.34,153.53 1036.11,152.89 1036.88,152.25 1037.65,151.62 1038.42,150.98 1039.2,150.34 1039.97,149.71 1040.74,149.07 1041.51,148.43 1042.28,147.79 1043.06,147.15 1043.83,146.51 1044.6,145.87 1045.37,145.24 1046.14,144.6 1046.91,143.96 1047.69,143.32 1048.46,142.68 1049.23,142.04 1050,141.39 1050.77,140.75 1051.55,140.11 1052.32,139.47 1053.09,138.83 1053.86,138.19 1054.63,137.55 1055.41,136.9 1056.18,136.26 1056.95,135.62 1057.72,134.98 1058.49,134.33 1059.26,133.69 1060.04,133.05 1060.81,132.4 1061.58,131.76 1062.35,131.12 1063.12,130.47 1063.9,129.83 1064.67,129.18 1065.44,128.54 1066.21,127.9 1066.98,127.25 1067.75,126.61 1068.53,125.96 1069.3,125.32 1070.07,124.67 1070.84,124.03 1071.61,123.38 1072.39,122.74 1073.16,122.09 1073.93,121.44 1074.7,120.8 1075.47,120.15 1076.24,119.51 1077.02,118.86 1077.79,118.21 1078.56,117.57 1079.33,116.92 1080.1,116.27 1080.88,115.63 1081.65,114.98 1082.42,114.33 1083.19,113.69 1083.96,113.04 1084.73,112.39 1085.51,111.75 1086.28,111.1 1087.05,110.45 1087.82,109.8 1088.59,109.16 1089.37,108.51 1090.14,107.86 1090.91,107.22 1091.68,106.57 1092.45,105.92 1093.22,105.27 1094,104.63 1094.77,103.98 1095.54,103.33 1096.31,102.69 1097.08,102.04 1097.86,101.4 1098.63,100.75 1099.4,100.11 1100.17,99.46 1100.94,98.82 1101.72,98.18 1102.49,97.53 1103.26,96.89 1104.03,96.25 1104.8,95.61 1105.57,94.97 1106.35,94.33 1107.12,93.69 1107.89,93.05 1108.66,92.42 1109.43,91.78 1110.21,91.15 1110.98,90.51 1111.75,89.88 1112.52,89.25 1113.29,88.62 1114.06,87.99 1114.84,87.36 1115.61,86.73 1116.38,86.11 1117.15,85.48 1117.92,84.86 1118.7,84.24 1119.47,83.61 1120.24,83 1121.01,82.38 1121.78,81.76 1122.55,81.15 1123.33,80.53 1124.1,79.92 1124.87,79.31 1125.64,78.7 1126.41,78.1 1127.19,77.49 1127.96,76.89 1128.73,76.29 1129.5,75.69 1130.27,75.09 1131.04,74.49 1131.82,73.9 1132.59,73.31 1133.36,72.72 1134.13,72.13 1134.9,71.55 1135.68,70.96 1136.45,70.38 1137.22,69.8 1137.99,69.23 1138.76,68.65 1139.53,68.08 1140.31,67.51 1141.08,66.94 1141.85,66.38 1142.62,65.82 1143.39,65.26 1144.17,64.7 1144.94,64.15 1145.71,63.59 1146.48,63.05 1147.25,62.5 1148.03,61.96 1148.8,61.41 1149.57,60.88 1150.34,60.34 1151.11,59.81 1151.88,59.28 1152.66,58.75 1153.43,58.23 1154.2,57.71 1154.97,57.19 1155.74,56.68 1156.52,56.17 1157.29,55.66 1158.06,55.15 1158.83,54.65 1159.6,54.15 1160.37,53.66 1161.15,53.17 1161.92,52.68 1162.69,52.19 1163.46,51.71 1164.23,51.23 1165.01,50.76 1165.78,50.29 1166.55,49.82 1167.32,49.36 1168.09,48.9 1168.86,48.44 1169.64,47.99 1170.41,47.54 1171.18,47.1 1171.95,46.66 1172.72,46.22 1173.5,45.79 1174.27,45.36 1175.04,44.94 1175.81,44.52 1176.58,44.1 1177.35,43.69 1178.13,43.28 1178.9,42.87 1179.67,42.47 1180.44,42.08 1181.21,41.69 1181.99,41.3 1182.76,40.92 1183.53,40.54 1184.3,40.17 1185.07,39.8 1185.85,39.43 1186.62,39.07 1187.39,38.72 1188.16,38.37 1188.93,38.02 1189.7,37.68 1190.48,37.34 1191.25,37.01 1192.02,36.69 1192.79,36.36 1193.56,36.05 1194.34,35.73 1195.11,35.43 1195.88,35.13 1196.65,34.83 1197.42,34.54 1198.19,34.25 1198.97,33.97 1199.74,33.69 1200.51,33.42 1201.28,33.15 1202.05,32.89 1202.83,32.64 1203.6,32.39 1204.37,32.14 1205.14,31.91 1205.91,31.67 1206.68,31.44 1207.46,31.22 1208.23,31.01 1209,30.79" fill="none" stroke="#000" stroke-width="4.6" stroke-linecap="round" stroke-linejoin="round" stroke-dasharray="12.2 20.16" stroke-dashoffset="0.77"/>
<polyline points="745.9,373.07 747.19,372.12 748.47,371.18 749.76,370.23 751.05,369.28 752.33,368.33 753.62,367.38 754.9,366.42 756.19,365.47 757.48,364.52 758.76,363.56 760.05,362.61 761.34,361.65 762.62,360.7 763.91,359.74 765.2,358.78 766.48,357.83 767.77,356.87 769.05,355.91 770.34,354.95 771.63,354 772.91,353.04 774.2,352.08 775.49,351.12 776.77,350.17 778.06,349.21 779.35,348.25 780.63,347.3 781.92,346.34 783.21,345.39 784.49,344.43 785.78,343.48 787.06,342.52 788.35,341.57 789.64,340.62 790.92,339.67 792.21,338.71 793.5,337.77 794.78,336.82 796.07,335.87 797.36,334.92 798.64,333.98 799.93,333.03 801.21,332.09 802.5,331.15 803.79,330.21 805.07,329.27 806.36,328.33 807.65,327.4 808.93,326.46 810.22,325.53 811.51,324.6 812.79,323.67 814.08,322.74 815.37,321.82 816.65,320.9 817.94,319.98 819.22,319.06 820.51,318.14 821.8,317.23 823.08,316.31 824.37,315.41 825.66,314.5 826.94,313.61 828.23,312.72 829.52,311.83 830.8,310.95 832.09,310.08 833.37,309.21 834.66,308.34 835.95,307.48 837.23,306.62 838.52,305.77 839.81,304.92 841.09,304.07 842.38,303.23 843.67,302.38 844.95,301.54 846.24,300.7 847.52,299.87 848.81,299.03 850.1,298.2 851.38,297.36 852.67,296.53 853.96,295.7 855.24,294.86 856.53,294.03 857.82,293.2 859.1,292.37 860.39,291.53 861.67,290.7 862.96,289.86 864.25,289.02 865.53,288.18 866.82,287.33 868.11,286.49 869.39,285.64 870.68,284.79 871.97,283.93 873.25,283.08 874.54,282.21 875.83,281.35 877.11,280.48 878.4,279.6 879.68,278.72 880.97,277.84 882.26,276.94 883.54,276.05 884.83,275.15 886.12,274.24 887.4,273.32 888.69,272.4 889.98,271.47 891.26,270.53 892.55,269.59 893.83,268.64 895.12,267.68 896.41,266.71 897.69,265.73 898.98,264.75 900.27,263.75 901.55,262.75 902.84,261.74 904.13,260.71 905.41,259.68 906.7,258.64 907.99,257.59 909.27,256.53 910.56,255.47 911.84,254.39 913.13,253.31 914.42,252.22 915.7,251.13 916.99,250.03 918.28,248.92 919.56,247.8 920.85,246.68 922.14,245.56 923.42,244.43 924.71,243.3 925.99,242.16 927.28,241.02 928.57,239.87 929.85,238.72 931.14,237.57 932.43,236.41 933.71,235.25 935,234.09 936.29,232.93 937.57,231.76 938.86,230.59 940.14,229.43 941.43,228.26 942.72,227.09 944,225.92 945.29,224.75 946.58,223.58 947.86,222.42 949.15,221.25 950.44,220.08 951.72,218.92 953.01,217.76 954.29,216.6 955.58,215.44 956.87,214.28 958.15,213.13 959.44,211.98 960.73,210.84 962.01,209.7 963.3,208.56 964.59,207.43 965.87,206.3 967.16,205.18 968.45,204.06 969.73,202.95 971.02,201.85 972.3,200.75 973.59,199.66 974.88,198.57 976.16,197.49 977.45,196.42 978.74,195.36 980.02,194.29 981.31,193.22 982.6,192.16 983.88,191.09 985.17,190.02 986.45,188.96 987.74,187.89 989.03,186.83 990.31,185.76 991.6,184.7 992.89,183.64 994.17,182.58 995.46,181.52 996.75,180.46 998.03,179.4 999.32,178.34 1000.61,177.29 1001.89,176.23 1003.18,175.18 1004.46,174.13 1005.75,173.09 1007.04,172.04 1008.32,171 1009.61,169.96 1010.9,168.92 1012.18,167.88 1013.47,166.85 1014.76,165.82 1016.04,164.79 1017.33,163.76 1018.61,162.74 1019.9,161.72 1021.19,160.71 1022.47,159.69 1023.76,158.69 1025.05,157.68 1026.33,156.68 1027.62,155.68 1028.91,154.69 1030.19,153.7 1031.48,152.71 1032.76,151.73 1034.05,150.75 1035.34,149.78 1036.62,148.81 1037.91,147.84 1039.2,146.88 1040.48,145.93 1041.77,144.98 1043.06,144.04 1044.34,143.1 1045.63,142.16 1046.91,141.23 1048.2,140.31 1049.49,139.39 1050.77,138.48 1052.06,137.57 1053.35,136.67 1054.63,135.78 1055.92,134.89 1057.21,134.02 1058.49,133.15 1059.78,132.29 1061.07,131.44 1062.35,130.6 1063.64,129.77 1064.92,128.94 1066.21,128.13 1067.5,127.32 1068.78,126.52 1070.07,125.72 1071.36,124.93 1072.64,124.15 1073.93,123.37 1075.22,122.6 1076.5,121.83 1077.79,121.07 1079.07,120.31 1080.36,119.56 1081.65,118.81 1082.93,118.07 1084.22,117.32 1085.51,116.59 1086.79,115.85 1088.08,115.12 1089.37,114.39 1090.65,113.66 1091.94,112.93 1093.22,112.2 1094.51,111.47 1095.8,110.75 1097.08,110.02 1098.37,109.3 1099.66,108.57 1100.94,107.85 1102.23,107.12 1103.52,106.39 1104.8,105.66 1106.09,104.93 1107.38,104.2 1108.66,103.46 1109.95,102.72 1111.23,101.98 1112.52,101.24 1113.81,100.49 1115.09,99.73 1116.38,98.98 1117.67,98.21 1118.95,97.45 1120.24,96.67 1121.53,95.9 1122.81,95.11 1124.1,94.32 1125.38,93.53 1126.67,92.72 1127.96,91.91 1129.24,91.1 1130.53,90.27 1131.82,89.44 1133.1,88.6 1134.39,87.76 1135.68,86.91 1136.96,86.06 1138.25,85.2 1139.53,84.34 1140.82,83.48 1142.11,82.61 1143.39,81.74 1144.68,80.87 1145.97,79.99 1147.25,79.11 1148.54,78.23 1149.83,77.35 1151.11,76.46 1152.4,75.57 1153.69,74.67 1154.97,73.78 1156.26,72.88 1157.54,71.98 1158.83,71.07 1160.12,70.17 1161.4,69.26 1162.69,68.35 1163.98,67.44 1165.26,66.53 1166.55,65.62 1167.84,64.7 1169.12,63.79 1170.41,62.87 1171.69,61.95 1172.98,61.03 1174.27,60.11 1175.55,59.19 1176.84,58.27 1178.13,57.34 1179.41,56.42 1180.7,55.5 1181.99,54.57 1183.27,53.65 1184.56,52.73 1185.85,51.8 1187.13,50.88 1188.42,49.96 1189.7,49.04 1190.99,48.11 1192.28,47.19 1193.56,46.27 1194.85,45.35 1196.14,44.43 1197.42,43.52 1198.71,42.6 1200,41.69 1201.28,40.77 1202.57,39.86 1203.85,38.95 1205.14,38.04 1206.43,37.13 1207.71,36.23 1209,35.33" fill="none" stroke="#ED1C24" stroke-width="4.6" stroke-linejoin="round"/>
<rect x="740.4" y="367.57" width="11" height="11" fill="#ED1C24"/>
<rect x="817.58" y="310.81" width="11" height="11" fill="#ED1C24"/>
<rect x="894.77" y="258.25" width="11" height="11" fill="#ED1C24"/>
<rect x="971.95" y="190.92" width="11" height="11" fill="#ED1C24"/>
<rect x="1049.13" y="130.28" width="11" height="11" fill="#ED1C24"/>
<rect x="1126.32" y="83.94" width="11" height="11" fill="#ED1C24"/>
<rect x="1203.5" y="29.83" width="11" height="11" fill="#ED1C24"/>
</g>
<path d="M745.9 386.6v7.6M745.9 13.4v7.6M784.49 386.6v4M784.49 13.4v4M823.08 386.6v7.6M823.08 13.4v7.6M861.67 386.6v4M861.67 13.4v4M900.27 386.6v7.6M900.27 13.4v7.6M938.86 386.6v4M938.86 13.4v4M977.45 386.6v7.6M977.45 13.4v7.6M1016.04 386.6v4M1016.04 13.4v4M1054.63 386.6v7.6M1054.63 13.4v7.6M1093.22 386.6v4M1093.22 13.4v4M1131.82 386.6v7.6M1131.82 13.4v7.6M1170.41 386.6v4M1170.41 13.4v4M1209 386.6v7.6M1209 13.4v7.6M745.9 386.6h-7.6M1209 386.6h-7.6M745.9 363.28h-4M1209 363.28h-4M745.9 339.95h-7.6M1209 339.95h-7.6M745.9 316.62h-4M1209 316.62h-4M745.9 293.3h-7.6M1209 293.3h-7.6M745.9 269.98h-4M1209 269.98h-4M745.9 246.65h-7.6M1209 246.65h-7.6M745.9 223.33h-4M1209 223.33h-4M745.9 200h-7.6M1209 200h-7.6M745.9 176.67h-4M1209 176.67h-4M745.9 153.35h-7.6M1209 153.35h-7.6M745.9 130.02h-4M1209 130.02h-4M745.9 106.7h-7.6M1209 106.7h-7.6M745.9 83.38h-4M1209 83.38h-4M745.9 60.05h-7.6M1209 60.05h-7.6M745.9 36.72h-4M1209 36.72h-4M745.9 13.4h-7.6M1209 13.4h-7.6" stroke="#000" stroke-width="1.8" fill="none"/>
<rect x="745.9" y="13.4" width="463.1" height="373.2" fill="none" stroke="#000" stroke-width="1.9"/>
<g class="t" font-size="33" fill="#000"><text x="745.9" y="423.1" text-anchor="middle">-45</text><text x="823.08" y="423.1" text-anchor="middle">-30</text><text x="900.27" y="423.1" text-anchor="middle">-15</text><text x="977.45" y="423.1" text-anchor="middle">0</text><text x="1054.63" y="423.1" text-anchor="middle">15</text><text x="1131.82" y="423.1" text-anchor="middle">30</text><text x="1209" y="423.1" text-anchor="middle">45</text><text x="733.9" y="395.8" text-anchor="end">-12</text><text x="733.9" y="349.15" text-anchor="end">-9</text><text x="733.9" y="302.5" text-anchor="end">-6</text><text x="733.9" y="255.85" text-anchor="end">-3</text><text x="733.9" y="209.2" text-anchor="end">0</text><text x="733.9" y="162.55" text-anchor="end">3</text><text x="733.9" y="115.9" text-anchor="end">6</text><text x="733.9" y="69.25" text-anchor="end">9</text><text x="733.9" y="22.6" text-anchor="end">12</text></g>
<path d="M562 908.67H99.4M562 846.43H99.4M562 784.2H99.4M562 721.97H99.4M562 659.73H99.4M176.5 970.9V597.5M253.6 970.9V597.5M330.7 970.9V597.5M407.8 970.9V597.5M484.9 970.9V597.5" stroke="#B4B4B4" stroke-width="1.75" stroke-dasharray="8.6 7.67" fill="none"/>
<g transform="matrix(115.6 19.9 -0.3 148.9 191.5 609)"><path d="M0 0H1V1H0Z" fill="#F7941D" stroke="#2b1d10" stroke-width="1.2" vector-effect="non-scaling-stroke"/><path d="M0.52 -0 L0.75 0.23 L0.5 0.48 L0.27 0.25 Z" fill="#FBEB22"/><path d="M0.25 0.27 L0.48 0.5 L0.23 0.74 L0 0.51 Z" fill="#FBEB22"/><path d="M0.77 0.25 L1 0.48 L0.75 0.73 L0.52 0.5 Z" fill="#FBEB22"/><path d="M0.5 0.52 L0.73 0.75 L0.48 0.99 L0.25 0.76 Z" fill="#FBEB22"/><path d="M0.39 0.36 L0.41 0.38 L0.39 0.41 L0.36 0.38 Z" fill="#A8202A"/><path d="M0.65 0.37 L0.62 0.4 L0.6 0.38 L0.62 0.35 Z" fill="#A8202A"/><path d="M0.35 0.62 L0.38 0.59 L0.4 0.61 L0.38 0.64 Z" fill="#A8202A"/><path d="M0.61 0.64 L0.59 0.61 L0.61 0.59 L0.64 0.61 Z" fill="#A8202A"/></g>
<line x1="151.6" y1="747" x2="249" y2="690.4" stroke="#231F20" stroke-width="3.0" stroke-linecap="round"/><line x1="150.6" y1="707.6" x2="150.6" y2="783" stroke="#231F20" stroke-width="3.0" stroke-linecap="round" stroke-dasharray="9.2 6.6" stroke-dashoffset="6.3"/><path d="M137.38 732.59 A20 20 0 0 1 150.6 727.6" fill="none" stroke="#231F20" stroke-width="2.8"/><line x1="133.43" y1="728.19" x2="167.27" y2="767.01" stroke="#ED1C24" stroke-width="4.0"/><path d="M126.2 719.9L130.18 736.33L133.43 728.19L141.94 726.08Z" fill="#ED1C24"/><path d="M174.5 775.3L158.76 769.12L167.27 767.01L170.52 758.87Z" fill="#ED1C24"/><text class="t" x="128.3" y="716.2" font-size="30" fill="#231F20" stroke="#231F20" stroke-width="0.7">φ</text><text class="t" transform="translate(182.5 784.2) scale(0.72 1)" font-size="30.5" fill="#ED1C24" stroke="#ED1C24" stroke-width="0.45">E</text><line x1="251.6" y1="619.1" x2="314.7" y2="619.1" stroke="#231F20" stroke-width="2.2" stroke-dasharray="10.6 3.8"/><path d="M294.8 619.1 Q294.9 623.1 293.8 627.1" fill="none" stroke="#231F20" stroke-width="2.2"/><text class="s" x="314.1" y="642.8" font-size="31" fill="#231F20">θ=40˚</text>
<g clip-path="url(#cpc)">
<polyline points="99.4,890.91 100.17,891.36 100.94,891.82 101.71,892.27 102.48,892.73 103.26,893.19 104.03,893.64 104.8,894.11 105.57,894.57 106.34,895.03 107.11,895.5 107.88,895.96 108.65,896.43 109.42,896.9 110.19,897.36 110.97,897.83 111.74,898.3 112.51,898.77 113.28,899.24 114.05,899.71 114.82,900.18 115.59,900.65 116.36,901.12 117.13,901.59 117.9,902.06 118.68,902.53 119.45,902.99 120.22,903.46 120.99,903.92 121.76,904.39 122.53,904.85 123.3,905.31 124.07,905.77 124.84,906.23 125.61,906.69 126.39,907.14 127.16,907.59 127.93,908.04 128.7,908.49 129.47,908.94 130.24,909.38 131.01,909.82 131.78,910.26 132.55,910.7 133.32,911.13 134.09,911.56 134.87,911.99 135.64,912.41 136.41,912.83 137.18,913.25 137.95,913.66 138.72,914.07 139.49,914.48 140.26,914.88 141.03,915.28 141.81,915.67 142.58,916.06 143.35,916.44 144.12,916.82 144.89,917.2 145.66,917.57 146.43,917.93 147.2,918.29 147.97,918.65 148.74,919 149.52,919.34 150.29,919.68 151.06,920.02 151.83,920.34 152.6,920.66 153.37,920.98 154.14,921.29 154.91,921.59 155.68,921.89 156.45,922.18 157.23,922.47 158,922.74 158.77,923.01 159.54,923.28 160.31,923.53 161.08,923.78 161.85,924.02 162.62,924.26 163.39,924.48 164.16,924.7 164.94,924.92 165.71,925.12 166.48,925.31 167.25,925.5 168.02,925.68 168.79,925.85 169.56,926.01 170.33,926.17 171.1,926.31 171.87,926.45 172.65,926.58 173.42,926.7 174.19,926.81 174.96,926.91 175.73,927 176.5,927.09 177.27,927.16 178.04,927.23 178.81,927.29 179.58,927.34 180.36,927.38 181.13,927.41 181.9,927.43 182.67,927.45 183.44,927.45 184.21,927.45 184.98,927.44 185.75,927.42 186.52,927.39 187.29,927.36 188.06,927.31 188.84,927.26 189.61,927.19 190.38,927.12 191.15,927.04 191.92,926.95 192.69,926.85 193.46,926.75 194.23,926.63 195,926.51 195.78,926.37 196.55,926.23 197.32,926.08 198.09,925.92 198.86,925.75 199.63,925.58 200.4,925.39 201.17,925.2 201.94,924.99 202.71,924.78 203.49,924.56 204.26,924.33 205.03,924.09 205.8,923.85 206.57,923.59 207.34,923.33 208.11,923.06 208.88,922.77 209.65,922.48 210.42,922.18 211.2,921.88 211.97,921.56 212.74,921.23 213.51,920.9 214.28,920.56 215.05,920.2 215.82,919.84 216.59,919.47 217.36,919.1 218.13,918.71 218.91,918.31 219.68,917.91 220.45,917.49 221.22,917.07 221.99,916.64 222.76,916.2 223.53,915.75 224.3,915.29 225.07,914.83 225.84,914.35 226.62,913.87 227.39,913.37 228.16,912.87 228.93,912.36 229.7,911.84 230.47,911.31 231.24,910.78 232.01,910.23 232.78,909.68 233.55,909.11 234.33,908.54 235.1,907.96 235.87,907.37 236.64,906.77 237.41,906.16 238.18,905.54 238.95,904.92 239.72,904.28 240.49,903.64 241.26,902.99 242.04,902.33 242.81,901.66 243.58,900.98 244.35,900.29 245.12,899.59 245.89,898.89 246.66,898.17 247.43,897.45 248.2,896.72 248.97,895.98 249.75,895.23 250.52,894.48 251.29,893.71 252.06,892.94 252.83,892.16 253.6,891.37 254.37,890.57 255.14,889.77 255.91,888.95 256.68,888.13 257.46,887.3 258.23,886.47 259,885.62 259.77,884.77 260.54,883.92 261.31,883.05 262.08,882.18 262.85,881.3 263.62,880.41 264.39,879.52 265.17,878.61 265.94,877.71 266.71,876.79 267.48,875.87 268.25,874.94 269.02,874.01 269.79,873.06 270.56,872.12 271.33,871.16 272.1,870.2 272.88,869.23 273.65,868.26 274.42,867.28 275.19,866.29 275.96,865.3 276.73,864.3 277.5,863.3 278.27,862.29 279.04,861.28 279.81,860.26 280.59,859.23 281.36,858.2 282.13,857.16 282.9,856.12 283.67,855.07 284.44,854.02 285.21,852.96 285.98,851.9 286.75,850.83 287.52,849.76 288.29,848.68 289.07,847.6 289.84,846.51 290.61,845.42 291.38,844.32 292.15,843.22 292.92,842.11 293.69,841 294.46,839.89 295.23,838.77 296,837.65 296.78,836.52 297.55,835.39 298.32,834.26 299.09,833.12 299.86,831.98 300.63,830.83 301.4,829.68 302.17,828.53 302.94,827.37 303.72,826.21 304.49,825.05 305.26,823.88 306.03,822.71 306.8,821.54 307.57,820.36 308.34,819.18 309.11,818 309.88,816.81 310.65,815.63 311.43,814.44 312.2,813.24 312.97,812.05 313.74,810.85 314.51,809.65 315.28,808.44 316.05,807.24 316.82,806.03 317.59,804.82 318.36,803.61 319.13,802.39 319.91,801.18 320.68,799.96 321.45,798.74 322.22,797.52 322.99,796.3 323.76,795.07 324.53,793.85 325.3,792.62 326.07,791.39 326.85,790.16 327.62,788.93 328.39,787.69 329.16,786.46 329.93,785.22 330.7,783.99 331.47,782.75 332.24,781.51 333.01,780.28 333.78,779.04 334.56,777.8 335.33,776.56 336.1,775.32 336.87,774.07 337.64,772.83 338.41,771.59 339.18,770.35 339.95,769.11 340.72,767.87 341.49,766.62 342.27,765.38 343.04,764.14 343.81,762.9 344.58,761.66 345.35,760.42 346.12,759.18 346.89,757.94 347.66,756.71 348.43,755.47 349.2,754.24 349.98,753.01 350.75,751.78 351.52,750.55 352.29,749.32 353.06,748.09 353.83,746.87 354.6,745.65 355.37,744.43 356.14,743.21 356.91,742 357.69,740.79 358.46,739.58 359.23,738.37 360,737.17 360.77,735.97 361.54,734.77 362.31,733.58 363.08,732.39 363.85,731.2 364.62,730.02 365.39,728.84 366.17,727.67 366.94,726.5 367.71,725.33 368.48,724.17 369.25,723.01 370.02,721.85 370.79,720.71 371.56,719.56 372.33,718.42 373.11,717.29 373.88,716.16 374.65,715.03 375.42,713.92 376.19,712.8 376.96,711.7 377.73,710.59 378.5,709.5 379.27,708.41 380.04,707.32 380.82,706.25 381.59,705.17 382.36,704.11 383.13,703.05 383.9,702 384.67,700.95 385.44,699.92 386.21,698.89 386.98,697.87 387.75,696.85 388.52,695.85 389.3,694.85 390.07,693.86 390.84,692.88 391.61,691.91 392.38,690.95 393.15,690 393.92,689.05 394.69,688.12 395.46,687.2 396.24,686.29 397.01,685.38 397.78,684.49 398.55,683.62 399.32,682.75 400.09,681.89 400.86,681.04 401.63,680.21 402.4,679.39 403.17,678.57 403.95,677.77 404.72,676.98 405.49,676.2 406.26,675.43 407.03,674.67 407.8,673.92 408.57,673.18 409.34,672.46 410.11,671.74 410.88,671.03 411.65,670.33 412.43,669.64 413.2,668.96 413.97,668.29 414.74,667.63 415.51,666.98 416.28,666.34 417.05,665.7 417.82,665.08 418.59,664.46 419.37,663.86 420.14,663.26 420.91,662.67 421.68,662.09 422.45,661.51 423.22,660.95 423.99,660.39 424.76,659.84 425.53,659.3 426.3,658.77 427.08,658.24 427.85,657.73 428.62,657.22 429.39,656.71 430.16,656.22 430.93,655.73 431.7,655.25 432.47,654.78 433.24,654.32 434.01,653.86 434.78,653.41 435.56,652.97 436.33,652.53 437.1,652.11 437.87,651.69 438.64,651.28 439.41,650.88 440.18,650.48 440.95,650.09 441.72,649.71 442.5,649.34 443.27,648.98 444.04,648.62 444.81,648.27 445.58,647.93 446.35,647.6 447.12,647.27 447.89,646.96 448.66,646.65 449.43,646.34 450.21,646.05 450.98,645.76 451.75,645.49 452.52,645.21 453.29,644.95 454.06,644.7 454.83,644.45 455.6,644.21 456.37,643.98 457.14,643.76 457.92,643.54 458.69,643.33 459.46,643.13 460.23,642.94 461,642.76 461.77,642.58 462.54,642.41 463.31,642.25 464.08,642.1 464.85,641.96 465.62,641.82 466.4,641.69 467.17,641.57 467.94,641.46 468.71,641.35 469.48,641.26 470.25,641.17 471.02,641.09 471.79,641.02 472.56,640.95 473.34,640.9 474.11,640.85 474.88,640.81 475.65,640.78 476.42,640.75 477.19,640.74 477.96,640.73 478.73,640.73 479.5,640.74 480.27,640.75 481.05,640.78 481.82,640.81 482.59,640.85 483.36,640.9 484.13,640.96 484.9,641.02 485.67,641.09 486.44,641.18 487.21,641.27 487.98,641.36 488.76,641.47 489.53,641.58 490.3,641.71 491.07,641.84 491.84,641.98 492.61,642.12 493.38,642.28 494.15,642.44 494.92,642.61 495.69,642.79 496.47,642.98 497.24,643.18 498.01,643.38 498.78,643.6 499.55,643.82 500.32,644.05 501.09,644.29 501.86,644.53 502.63,644.79 503.4,645.05 504.17,645.32 504.95,645.6 505.72,645.89 506.49,646.19 507.26,646.49 508.03,646.8 508.8,647.12 509.57,647.45 510.34,647.78 511.11,648.12 511.88,648.47 512.66,648.83 513.43,649.19 514.2,649.55 514.97,649.93 515.74,650.31 516.51,650.69 517.28,651.08 518.05,651.48 518.82,651.88 519.6,652.29 520.37,652.71 521.14,653.12 521.91,653.55 522.68,653.97 523.45,654.41 524.22,654.84 524.99,655.28 525.76,655.73 526.53,656.17 527.31,656.63 528.08,657.08 528.85,657.54 529.62,658 530.39,658.47 531.16,658.94 531.93,659.41 532.7,659.88 533.47,660.35 534.24,660.83 535.01,661.31 535.79,661.79 536.56,662.28 537.33,662.76 538.1,663.25 538.87,663.73 539.64,664.22 540.41,664.71 541.18,665.2 541.95,665.69 542.73,666.19 543.5,666.68 544.27,667.17 545.04,667.66 545.81,668.15 546.58,668.64 547.35,669.13 548.12,669.62 548.89,670.11 549.66,670.6 550.44,671.09 551.21,671.57 551.98,672.06 552.75,672.54 553.52,673.02 554.29,673.5 555.06,673.97 555.83,674.45 556.6,674.92 557.37,675.39 558.14,675.85 558.92,676.32 559.69,676.78 560.46,677.23 561.23,677.69 562,678.14" fill="none" stroke="#000" stroke-width="4.6" stroke-linecap="round" stroke-linejoin="round" stroke-dasharray="12.2 19.99" stroke-dashoffset="-0.88"/>
<polyline points="99.4,883.77 100.69,885.07 101.97,886.4 103.26,887.75 104.54,889.13 105.83,890.54 107.11,891.97 108.4,893.42 109.68,894.9 110.97,896.39 112.25,897.9 113.54,899.43 114.82,900.97 116.11,902.52 117.39,904.08 118.68,905.66 119.96,907.24 121.25,908.83 122.53,910.42 123.81,912.01 125.1,913.61 126.39,915.21 127.67,916.8 128.96,918.4 130.24,919.98 131.53,921.56 132.81,923.14 134.09,924.7 135.38,926.25 136.67,927.79 137.95,929.32 139.24,930.83 140.52,932.32 141.81,933.8 143.09,935.25 144.38,936.68 145.66,938.09 146.94,939.47 148.23,940.83 149.52,942.15 150.8,943.45 152.09,944.71 153.37,945.94 154.66,947.14 155.94,948.3 157.23,949.42 158.51,950.51 159.8,951.55 161.08,952.55 162.37,953.5 163.65,954.41 164.94,955.27 166.22,956.09 167.5,956.85 168.79,957.56 170.07,958.21 171.36,958.81 172.65,959.36 173.93,959.84 175.22,960.27 176.5,960.63 177.79,960.95 179.07,961.22 180.36,961.46 181.64,961.67 182.93,961.84 184.21,961.98 185.5,962.08 186.78,962.14 188.06,962.17 189.35,962.17 190.63,962.13 191.92,962.06 193.21,961.96 194.49,961.82 195.78,961.65 197.06,961.45 198.35,961.21 199.63,960.94 200.92,960.64 202.2,960.31 203.49,959.94 204.77,959.55 206.06,959.12 207.34,958.66 208.62,958.18 209.91,957.66 211.2,957.11 212.48,956.53 213.77,955.92 215.05,955.28 216.34,954.62 217.62,953.92 218.91,953.19 220.19,952.44 221.48,951.66 222.76,950.85 224.05,950.01 225.33,949.14 226.62,948.25 227.9,947.33 229.19,946.39 230.47,945.41 231.76,944.41 233.04,943.39 234.33,942.33 235.61,941.26 236.9,940.15 238.18,939.02 239.47,937.87 240.75,936.69 242.04,935.49 243.32,934.26 244.61,933.01 245.89,931.74 247.18,930.44 248.46,929.12 249.75,927.77 251.03,926.41 252.31,925.02 253.6,923.6 254.89,922.15 256.17,920.64 257.46,919.07 258.74,917.44 260.02,915.77 261.31,914.04 262.6,912.26 263.88,910.43 265.17,908.55 266.45,906.63 267.74,904.67 269.02,902.66 270.31,900.62 271.59,898.53 272.88,896.41 274.16,894.25 275.45,892.06 276.73,889.84 278.01,887.59 279.3,885.31 280.59,883 281.87,880.66 283.15,878.31 284.44,875.93 285.73,873.53 287.01,871.11 288.29,868.68 289.58,866.23 290.87,863.77 292.15,861.29 293.44,858.81 294.72,856.31 296,853.81 297.29,851.31 298.58,848.8 299.86,846.29 301.14,843.78 302.43,841.27 303.72,838.76 305,836.26 306.29,833.76 307.57,831.27 308.86,828.8 310.14,826.33 311.43,823.88 312.71,821.44 314,819.02 315.28,816.62 316.57,814.23 317.85,811.87 319.13,809.53 320.42,807.22 321.71,804.93 322.99,802.67 324.27,800.44 325.56,798.24 326.85,796.08 328.13,793.95 329.42,791.86 330.7,789.8 331.99,787.76 333.27,785.71 334.56,783.66 335.84,781.59 337.12,779.52 338.41,777.45 339.69,775.37 340.98,773.29 342.27,771.2 343.55,769.11 344.84,767.02 346.12,764.93 347.4,762.84 348.69,760.75 349.98,758.66 351.26,756.58 352.55,754.5 353.83,752.42 355.12,750.34 356.4,748.28 357.69,746.22 358.97,744.16 360.25,742.12 361.54,740.08 362.83,738.05 364.11,736.04 365.39,734.03 366.68,732.04 367.97,730.06 369.25,728.09 370.53,726.14 371.82,724.2 373.11,722.28 374.39,720.38 375.67,718.49 376.96,716.62 378.25,714.77 379.53,712.94 380.82,711.13 382.1,709.35 383.38,707.58 384.67,705.84 385.96,704.12 387.24,702.43 388.52,700.76 389.81,699.12 391.1,697.5 392.38,695.92 393.67,694.36 394.95,692.83 396.24,691.33 397.52,689.87 398.81,688.43 400.09,687.03 401.38,685.66 402.66,684.32 403.95,683.02 405.23,681.76 406.51,680.53 407.8,679.34 409.09,678.18 410.37,677.04 411.65,675.93 412.94,674.85 414.23,673.78 415.51,672.75 416.8,671.73 418.08,670.74 419.37,669.77 420.65,668.83 421.94,667.91 423.22,667.02 424.5,666.14 425.79,665.3 427.08,664.47 428.36,663.67 429.64,662.88 430.93,662.13 432.22,661.39 433.5,660.68 434.78,659.99 436.07,659.32 437.36,658.67 438.64,658.05 439.92,657.45 441.21,656.86 442.5,656.3 443.78,655.77 445.07,655.25 446.35,654.75 447.63,654.28 448.92,653.83 450.21,653.39 451.49,652.98 452.77,652.59 454.06,652.22 455.35,651.87 456.63,651.54 457.92,651.23 459.2,650.94 460.49,650.67 461.77,650.42 463.06,650.19 464.34,649.98 465.62,649.79 466.91,649.61 468.2,649.46 469.48,649.33 470.76,649.21 472.05,649.11 473.34,649.04 474.62,648.98 475.91,648.93 477.19,648.91 478.48,648.91 479.76,648.92 481.05,648.95 482.33,649 483.62,649.07 484.9,649.15 486.19,649.27 487.47,649.42 488.76,649.61 490.04,649.83 491.33,650.1 492.61,650.39 493.89,650.72 495.18,651.09 496.47,651.48 497.75,651.91 499.03,652.37 500.32,652.85 501.61,653.36 502.89,653.9 504.17,654.47 505.46,655.06 506.75,655.67 508.03,656.31 509.31,656.97 510.6,657.65 511.88,658.35 513.17,659.07 514.46,659.8 515.74,660.55 517.02,661.32 518.31,662.11 519.6,662.91 520.88,663.72 522.16,664.54 523.45,665.37 524.74,666.22 526.02,667.07 527.31,667.93 528.59,668.8 529.88,669.67 531.16,670.55 532.45,671.43 533.73,672.32 535.01,673.2 536.3,674.09 537.59,674.98 538.87,675.87 540.16,676.75 541.44,677.64 542.73,678.52 544.01,679.39 545.3,680.26 546.58,681.12 547.87,681.97 549.15,682.81 550.44,683.65 551.72,684.47 553.01,685.28 554.29,686.08 555.58,686.86 556.86,687.63 558.14,688.38 559.43,689.12 560.72,689.84 562,690.54" fill="none" stroke="#ED1C24" stroke-width="4.6" stroke-linejoin="round"/>
<rect x="93.9" y="878.27" width="11" height="11" fill="#ED1C24"/>
<rect x="171" y="955.13" width="11" height="11" fill="#ED1C24"/>
<rect x="248.1" y="918.1" width="11" height="11" fill="#ED1C24"/>
<rect x="325.2" y="784.3" width="11" height="11" fill="#ED1C24"/>
<rect x="402.3" y="673.84" width="11" height="11" fill="#ED1C24"/>
<rect x="479.4" y="643.65" width="11" height="11" fill="#ED1C24"/>
<rect x="556.5" y="685.04" width="11" height="11" fill="#ED1C24"/>
</g>
<path d="M99.4 970.9v7.6M99.4 597.5v7.6M137.95 970.9v4M137.95 597.5v4M176.5 970.9v7.6M176.5 597.5v7.6M215.05 970.9v4M215.05 597.5v4M253.6 970.9v7.6M253.6 597.5v7.6M292.15 970.9v4M292.15 597.5v4M330.7 970.9v7.6M330.7 597.5v7.6M369.25 970.9v4M369.25 597.5v4M407.8 970.9v7.6M407.8 597.5v7.6M446.35 970.9v4M446.35 597.5v4M484.9 970.9v7.6M484.9 597.5v7.6M523.45 970.9v4M523.45 597.5v4M562 970.9v7.6M562 597.5v7.6M99.4 970.9h-7.6M562 970.9h-7.6M99.4 939.78h-4M562 939.78h-4M99.4 908.67h-7.6M562 908.67h-7.6M99.4 877.55h-4M562 877.55h-4M99.4 846.43h-7.6M562 846.43h-7.6M99.4 815.32h-4M562 815.32h-4M99.4 784.2h-7.6M562 784.2h-7.6M99.4 753.08h-4M562 753.08h-4M99.4 721.97h-7.6M562 721.97h-7.6M99.4 690.85h-4M562 690.85h-4M99.4 659.73h-7.6M562 659.73h-7.6M99.4 628.62h-4M562 628.62h-4M99.4 597.5h-7.6M562 597.5h-7.6" stroke="#000" stroke-width="1.8" fill="none"/>
<rect x="99.4" y="597.5" width="462.6" height="373.4" fill="none" stroke="#000" stroke-width="1.9"/>
<g class="t" font-size="33" fill="#000"><text x="99.4" y="1007.4" text-anchor="middle">-45</text><text x="176.5" y="1007.4" text-anchor="middle">-30</text><text x="253.6" y="1007.4" text-anchor="middle">-15</text><text x="330.7" y="1007.4" text-anchor="middle">0</text><text x="407.8" y="1007.4" text-anchor="middle">15</text><text x="484.9" y="1007.4" text-anchor="middle">30</text><text x="562" y="1007.4" text-anchor="middle">45</text><text x="87.4" y="980.1" text-anchor="end">-6</text><text x="87.4" y="917.87" text-anchor="end">-4</text><text x="87.4" y="855.63" text-anchor="end">-2</text><text x="87.4" y="793.4" text-anchor="end">0</text><text x="87.4" y="731.17" text-anchor="end">2</text><text x="87.4" y="668.93" text-anchor="end">4</text><text x="87.4" y="606.7" text-anchor="end">6</text></g>
<path d="M1210 908.68H747.2M1210 846.47H747.2M1210 784.25H747.2M1210 722.03H747.2M1210 659.82H747.2M824.33 970.9V597.6M901.47 970.9V597.6M978.6 970.9V597.6M1055.73 970.9V597.6M1132.87 970.9V597.6" stroke="#B4B4B4" stroke-width="1.75" stroke-dasharray="8.6 7.67" fill="none"/>
<g transform="matrix(69.1 33.9 -5.3 148.9 864.6 617.5)"><path d="M0 0H1V1H0Z" fill="#F7941D" stroke="#2b1d10" stroke-width="1.2" vector-effect="non-scaling-stroke"/><path d="M0.52 -0 L0.75 0.23 L0.5 0.48 L0.27 0.25 Z" fill="#FBEB22"/><path d="M0.25 0.27 L0.48 0.5 L0.23 0.74 L0 0.51 Z" fill="#FBEB22"/><path d="M0.77 0.25 L1 0.48 L0.75 0.73 L0.52 0.5 Z" fill="#FBEB22"/><path d="M0.5 0.52 L0.73 0.75 L0.48 0.99 L0.25 0.76 Z" fill="#FBEB22"/><path d="M0.39 0.36 L0.41 0.38 L0.39 0.41 L0.36 0.38 Z" fill="#A8202A"/><path d="M0.65 0.37 L0.62 0.4 L0.6 0.38 L0.62 0.35 Z" fill="#A8202A"/><path d="M0.35 0.62 L0.38 0.59 L0.4 0.61 L0.38 0.64 Z" fill="#A8202A"/><path d="M0.61 0.64 L0.59 0.61 L0.61 0.59 L0.64 0.61 Z" fill="#A8202A"/></g>
<line x1="798.3" y1="766.2" x2="895.9" y2="710.2" stroke="#231F20" stroke-width="3.0" stroke-linecap="round"/><line x1="797.3" y1="726.8" x2="797.3" y2="802.2" stroke="#231F20" stroke-width="3.0" stroke-linecap="round" stroke-dasharray="9.2 6.6" stroke-dashoffset="6.3"/><path d="M784.08 751.79 A20 20 0 0 1 797.3 746.8" fill="none" stroke="#231F20" stroke-width="2.8"/><line x1="780.13" y1="747.39" x2="813.97" y2="786.21" stroke="#ED1C24" stroke-width="4.0"/><path d="M772.9 739.1L776.88 755.53L780.13 747.39L788.64 745.28Z" fill="#ED1C24"/><path d="M821.2 794.5L805.46 788.32L813.97 786.21L817.22 778.07Z" fill="#ED1C24"/><text class="t" x="775" y="735.4" font-size="30" fill="#231F20" stroke="#231F20" stroke-width="0.7">φ</text><text class="t" transform="translate(826 805.1) scale(0.72 1)" font-size="30.5" fill="#ED1C24" stroke="#ED1C24" stroke-width="0.45">E</text><line x1="901.2" y1="635.4" x2="945" y2="635.4" stroke="#231F20" stroke-width="2.2" stroke-dasharray="10.6 3.8"/><path d="M930.9 635.4 Q929.15 641.5 926.2 647.6" fill="none" stroke="#231F20" stroke-width="2.2"/><text class="s" x="940" y="656.9" font-size="31" fill="#231F20">θ=60˚</text>
<g clip-path="url(#cpd)">
<polyline points="747.2,919.69 747.97,920.19 748.74,920.7 749.51,921.2 750.29,921.7 751.06,922.2 751.83,922.7 752.6,923.2 753.37,923.7 754.14,924.19 754.91,924.69 755.68,925.18 756.46,925.67 757.23,926.16 758,926.65 758.77,927.13 759.54,927.61 760.31,928.09 761.08,928.57 761.86,929.05 762.63,929.52 763.4,930 764.17,930.47 764.94,930.93 765.71,931.4 766.48,931.86 767.25,932.32 768.03,932.77 768.8,933.22 769.57,933.67 770.34,934.12 771.11,934.56 771.88,935 772.65,935.44 773.43,935.87 774.2,936.3 774.97,936.73 775.74,937.15 776.51,937.57 777.28,937.99 778.05,938.4 778.82,938.8 779.6,939.21 780.37,939.61 781.14,940 781.91,940.39 782.68,940.78 783.45,941.16 784.22,941.54 785,941.91 785.77,942.28 786.54,942.64 787.31,943 788.08,943.35 788.85,943.7 789.62,944.04 790.39,944.38 791.17,944.71 791.94,945.04 792.71,945.36 793.48,945.68 794.25,945.99 795.02,946.3 795.79,946.6 796.57,946.89 797.34,947.18 798.11,947.46 798.88,947.74 799.65,948.01 800.42,948.27 801.19,948.53 801.96,948.78 802.74,949.02 803.51,949.26 804.28,949.49 805.05,949.72 805.82,949.94 806.59,950.15 807.36,950.35 808.14,950.55 808.91,950.74 809.68,950.93 810.45,951.1 811.22,951.27 811.99,951.43 812.76,951.59 813.53,951.73 814.31,951.87 815.08,952 815.85,952.13 816.62,952.24 817.39,952.35 818.16,952.45 818.93,952.54 819.71,952.63 820.48,952.7 821.25,952.77 822.02,952.83 822.79,952.88 823.56,952.93 824.33,952.96 825.1,952.99 825.88,953 826.65,953.01 827.42,953.02 828.19,953.01 828.96,952.99 829.73,952.97 830.5,952.94 831.28,952.9 832.05,952.85 832.82,952.79 833.59,952.72 834.36,952.65 835.13,952.56 835.9,952.47 836.67,952.37 837.45,952.26 838.22,952.14 838.99,952.01 839.76,951.88 840.53,951.73 841.3,951.58 842.07,951.41 842.85,951.24 843.62,951.06 844.39,950.87 845.16,950.67 845.93,950.46 846.7,950.24 847.47,950.02 848.24,949.78 849.02,949.54 849.79,949.28 850.56,949.02 851.33,948.75 852.1,948.47 852.87,948.17 853.64,947.87 854.42,947.56 855.19,947.25 855.96,946.92 856.73,946.58 857.5,946.23 858.27,945.87 859.04,945.51 859.81,945.13 860.59,944.75 861.36,944.35 862.13,943.94 862.9,943.53 863.67,943.11 864.44,942.67 865.21,942.23 865.99,941.77 866.76,941.31 867.53,940.84 868.3,940.35 869.07,939.86 869.84,939.36 870.61,938.84 871.38,938.32 872.16,937.79 872.93,937.24 873.7,936.69 874.47,936.13 875.24,935.55 876.01,934.97 876.78,934.38 877.56,933.77 878.33,933.16 879.1,932.53 879.87,931.9 880.64,931.25 881.41,930.6 882.18,929.93 882.95,929.26 883.73,928.57 884.5,927.87 885.27,927.16 886.04,926.45 886.81,925.72 887.58,924.98 888.35,924.23 889.13,923.47 889.9,922.7 890.67,921.91 891.44,921.12 892.21,920.32 892.98,919.51 893.75,918.68 894.52,917.85 895.3,917 896.07,916.15 896.84,915.29 897.61,914.41 898.38,913.53 899.15,912.64 899.92,911.73 900.7,910.82 901.47,909.9 902.24,908.96 903.01,908.02 903.78,907.07 904.55,906.11 905.32,905.14 906.09,904.17 906.87,903.18 907.64,902.18 908.41,901.18 909.18,900.17 909.95,899.14 910.72,898.11 911.49,897.07 912.27,896.03 913.04,894.97 913.81,893.91 914.58,892.83 915.35,891.75 916.12,890.66 916.89,889.57 917.66,888.46 918.44,887.35 919.21,886.23 919.98,885.1 920.75,883.97 921.52,882.82 922.29,881.67 923.06,880.51 923.84,879.35 924.61,878.18 925.38,877 926.15,875.81 926.92,874.62 927.69,873.42 928.46,872.21 929.23,871 930.01,869.77 930.78,868.55 931.55,867.31 932.32,866.07 933.09,864.83 933.86,863.57 934.63,862.31 935.41,861.05 936.18,859.78 936.95,858.5 937.72,857.22 938.49,855.93 939.26,854.63 940.03,853.33 940.8,852.03 941.58,850.71 942.35,849.4 943.12,848.08 943.89,846.75 944.66,845.42 945.43,844.08 946.2,842.74 946.98,841.4 947.75,840.05 948.52,838.7 949.29,837.34 950.06,835.98 950.83,834.61 951.6,833.24 952.37,831.87 953.15,830.5 953.92,829.12 954.69,827.73 955.46,826.35 956.23,824.96 957,823.57 957.77,822.17 958.55,820.77 959.32,819.38 960.09,817.97 960.86,816.57 961.63,815.16 962.4,813.75 963.17,812.34 963.94,810.93 964.72,809.52 965.49,808.1 966.26,806.68 967.03,805.26 967.8,803.84 968.57,802.42 969.34,800.99 970.12,799.57 970.89,798.14 971.66,796.72 972.43,795.29 973.2,793.86 973.97,792.43 974.74,791 975.51,789.57 976.29,788.14 977.06,786.71 977.83,785.27 978.6,783.84 979.37,782.41 980.14,780.98 980.91,779.54 981.69,778.11 982.46,776.68 983.23,775.25 984,773.81 984.77,772.38 985.54,770.95 986.31,769.52 987.08,768.09 987.86,766.66 988.63,765.23 989.4,763.81 990.17,762.38 990.94,760.96 991.71,759.53 992.48,758.11 993.26,756.69 994.03,755.27 994.8,753.85 995.57,752.44 996.34,751.02 997.11,749.61 997.88,748.2 998.65,746.79 999.43,745.38 1000.2,743.98 1000.97,742.57 1001.74,741.17 1002.51,739.78 1003.28,738.38 1004.05,736.99 1004.83,735.6 1005.6,734.21 1006.37,732.83 1007.14,731.45 1007.91,730.07 1008.68,728.7 1009.45,727.33 1010.22,725.96 1011,724.6 1011.77,723.24 1012.54,721.89 1013.31,720.54 1014.08,719.2 1014.85,717.85 1015.62,716.52 1016.4,715.19 1017.17,713.86 1017.94,712.54 1018.71,711.22 1019.48,709.91 1020.25,708.61 1021.02,707.31 1021.79,706.02 1022.57,704.73 1023.34,703.45 1024.11,702.17 1024.88,700.9 1025.65,699.64 1026.42,698.38 1027.19,697.13 1027.97,695.89 1028.74,694.66 1029.51,693.43 1030.28,692.21 1031.05,690.99 1031.82,689.79 1032.59,688.59 1033.36,687.4 1034.14,686.21 1034.91,685.04 1035.68,683.87 1036.45,682.72 1037.22,681.57 1037.99,680.43 1038.76,679.29 1039.54,678.17 1040.31,677.06 1041.08,675.95 1041.85,674.86 1042.62,673.77 1043.39,672.69 1044.16,671.63 1044.93,670.57 1045.71,669.52 1046.48,668.48 1047.25,667.45 1048.02,666.43 1048.79,665.42 1049.56,664.42 1050.33,663.43 1051.11,662.45 1051.88,661.48 1052.65,660.52 1053.42,659.57 1054.19,658.63 1054.96,657.71 1055.73,656.79 1056.5,655.88 1057.28,654.98 1058.05,654.09 1058.82,653.21 1059.59,652.35 1060.36,651.49 1061.13,650.65 1061.9,649.81 1062.68,648.99 1063.45,648.17 1064.22,647.37 1064.99,646.58 1065.76,645.8 1066.53,645.02 1067.3,644.26 1068.07,643.51 1068.85,642.77 1069.62,642.04 1070.39,641.32 1071.16,640.61 1071.93,639.92 1072.7,639.23 1073.47,638.55 1074.25,637.88 1075.02,637.22 1075.79,636.58 1076.56,635.94 1077.33,635.31 1078.1,634.7 1078.87,634.09 1079.64,633.49 1080.42,632.91 1081.19,632.33 1081.96,631.76 1082.73,631.2 1083.5,630.66 1084.27,630.12 1085.04,629.59 1085.82,629.08 1086.59,628.57 1087.36,628.07 1088.13,627.58 1088.9,627.11 1089.67,626.64 1090.44,626.18 1091.21,625.73 1091.99,625.29 1092.76,624.86 1093.53,624.44 1094.3,624.03 1095.07,623.63 1095.84,623.24 1096.61,622.85 1097.39,622.48 1098.16,622.12 1098.93,621.76 1099.7,621.42 1100.47,621.08 1101.24,620.76 1102.01,620.44 1102.78,620.13 1103.56,619.84 1104.33,619.55 1105.1,619.27 1105.87,619 1106.64,618.73 1107.41,618.48 1108.18,618.24 1108.96,618.01 1109.73,617.78 1110.5,617.56 1111.27,617.36 1112.04,617.16 1112.81,616.97 1113.58,616.79 1114.35,616.62 1115.13,616.45 1115.9,616.3 1116.67,616.16 1117.44,616.02 1118.21,615.89 1118.98,615.77 1119.75,615.66 1120.53,615.56 1121.3,615.47 1122.07,615.38 1122.84,615.31 1123.61,615.24 1124.38,615.18 1125.15,615.13 1125.92,615.09 1126.7,615.06 1127.47,615.03 1128.24,615.02 1129.01,615.01 1129.78,615.01 1130.55,615.02 1131.32,615.03 1132.1,615.06 1132.87,615.09 1133.64,615.14 1134.41,615.19 1135.18,615.24 1135.95,615.31 1136.72,615.38 1137.49,615.46 1138.27,615.55 1139.04,615.65 1139.81,615.76 1140.58,615.87 1141.35,615.99 1142.12,616.12 1142.89,616.25 1143.67,616.39 1144.44,616.54 1145.21,616.7 1145.98,616.86 1146.75,617.03 1147.52,617.21 1148.29,617.39 1149.06,617.59 1149.84,617.78 1150.61,617.99 1151.38,618.2 1152.15,618.42 1152.92,618.64 1153.69,618.87 1154.46,619.11 1155.24,619.35 1156.01,619.6 1156.78,619.86 1157.55,620.12 1158.32,620.38 1159.09,620.66 1159.86,620.94 1160.63,621.22 1161.41,621.51 1162.18,621.81 1162.95,622.11 1163.72,622.41 1164.49,622.73 1165.26,623.04 1166.03,623.37 1166.81,623.69 1167.58,624.03 1168.35,624.37 1169.12,624.71 1169.89,625.06 1170.66,625.41 1171.43,625.77 1172.2,626.13 1172.98,626.49 1173.75,626.86 1174.52,627.24 1175.29,627.62 1176.06,628 1176.83,628.39 1177.6,628.78 1178.38,629.18 1179.15,629.58 1179.92,629.99 1180.69,630.39 1181.46,630.81 1182.23,631.22 1183,631.64 1183.77,632.06 1184.55,632.49 1185.32,632.92 1186.09,633.35 1186.86,633.79 1187.63,634.23 1188.4,634.67 1189.17,635.12 1189.95,635.57 1190.72,636.02 1191.49,636.48 1192.26,636.93 1193.03,637.39 1193.8,637.86 1194.57,638.32 1195.34,638.79 1196.12,639.26 1196.89,639.73 1197.66,640.21 1198.43,640.69 1199.2,641.17 1199.97,641.65 1200.74,642.13 1201.52,642.62 1202.29,643.1 1203.06,643.59 1203.83,644.08 1204.6,644.58 1205.37,645.07 1206.14,645.57 1206.91,646.06 1207.69,646.56 1208.46,647.06 1209.23,647.56 1210,648.07" fill="none" stroke="#000" stroke-width="4.6" stroke-linecap="round" stroke-linejoin="round" stroke-dasharray="12.2 20.1" stroke-dashoffset="0.08"/>
<polyline points="747.2,883.8 748.49,885.09 749.77,886.42 751.06,887.77 752.34,889.16 753.63,890.56 754.91,891.99 756.2,893.45 757.48,894.92 758.77,896.41 760.06,897.92 761.34,899.45 762.63,900.99 763.91,902.54 765.2,904.1 766.48,905.67 767.77,907.26 769.05,908.84 770.34,910.43 771.63,912.03 772.91,913.63 774.2,915.22 775.48,916.82 776.77,918.41 778.05,920 779.34,921.58 780.62,923.15 781.91,924.71 783.2,926.27 784.48,927.81 785.77,929.33 787.05,930.84 788.34,932.33 789.62,933.81 790.91,935.26 792.19,936.69 793.48,938.1 794.77,939.48 796.05,940.83 797.34,942.16 798.62,943.46 799.91,944.72 801.19,945.95 802.48,947.15 803.76,948.31 805.05,949.43 806.34,950.51 807.62,951.55 808.91,952.55 810.19,953.51 811.48,954.42 812.76,955.28 814.05,956.09 815.33,956.85 816.62,957.56 817.91,958.22 819.19,958.82 820.48,959.36 821.76,959.85 823.05,960.27 824.33,960.63 825.62,960.95 826.9,961.23 828.19,961.47 829.48,961.67 830.76,961.84 832.05,961.98 833.33,962.08 834.62,962.14 835.9,962.18 837.19,962.17 838.47,962.14 839.76,962.07 841.05,961.96 842.33,961.82 843.62,961.65 844.9,961.45 846.19,961.21 847.47,960.94 848.76,960.64 850.04,960.31 851.33,959.95 852.62,959.55 853.9,959.13 855.19,958.67 856.47,958.18 857.76,957.66 859.04,957.11 860.33,956.53 861.61,955.93 862.9,955.29 864.19,954.62 865.47,953.92 866.76,953.2 868.04,952.45 869.33,951.66 870.61,950.85 871.9,950.02 873.18,949.15 874.47,948.26 875.76,947.34 877.04,946.39 878.33,945.42 879.61,944.42 880.9,943.39 882.18,942.34 883.47,941.26 884.75,940.16 886.04,939.03 887.33,937.88 888.61,936.7 889.9,935.5 891.18,934.27 892.47,933.02 893.75,931.75 895.04,930.45 896.32,929.13 897.61,927.78 898.9,926.42 900.18,925.03 901.47,923.62 902.75,922.16 904.04,920.65 905.32,919.08 906.61,917.46 907.89,915.78 909.18,914.05 910.47,912.27 911.75,910.44 913.04,908.57 914.32,906.65 915.61,904.69 916.89,902.68 918.18,900.63 919.46,898.55 920.75,896.43 922.04,894.27 923.32,892.08 924.61,889.86 925.89,887.61 927.18,885.33 928.46,883.02 929.75,880.69 931.03,878.33 932.32,875.95 933.61,873.56 934.89,871.14 936.18,868.71 937.46,866.26 938.75,863.8 940.03,861.32 941.32,858.84 942.6,856.34 943.89,853.84 945.18,851.34 946.46,848.83 947.75,846.32 949.03,843.81 950.32,841.3 951.6,838.79 952.89,836.29 954.17,833.8 955.46,831.31 956.75,828.84 958.03,826.37 959.32,823.92 960.6,821.48 961.89,819.06 963.17,816.66 964.46,814.27 965.74,811.91 967.03,809.58 968.32,807.26 969.6,804.98 970.89,802.72 972.17,800.49 973.46,798.29 974.74,796.13 976.03,794 977.31,791.9 978.6,789.85 979.89,787.81 981.17,785.76 982.46,783.71 983.74,781.64 985.03,779.57 986.31,777.5 987.6,775.42 988.88,773.34 990.17,771.25 991.46,769.16 992.74,767.08 994.03,764.99 995.31,762.9 996.6,760.81 997.88,758.72 999.17,756.63 1000.45,754.55 1001.74,752.48 1003.03,750.4 1004.31,748.34 1005.6,746.28 1006.88,744.22 1008.17,742.18 1009.45,740.14 1010.74,738.12 1012.02,736.1 1013.31,734.1 1014.6,732.1 1015.88,730.12 1017.17,728.16 1018.45,726.21 1019.74,724.27 1021.02,722.35 1022.31,720.44 1023.59,718.56 1024.88,716.69 1026.17,714.84 1027.45,713.01 1028.74,711.2 1030.02,709.42 1031.31,707.65 1032.59,705.91 1033.88,704.19 1035.16,702.5 1036.45,700.83 1037.74,699.19 1039.02,697.58 1040.31,695.99 1041.59,694.43 1042.88,692.91 1044.16,691.41 1045.45,689.94 1046.73,688.51 1048.02,687.1 1049.31,685.73 1050.59,684.4 1051.88,683.1 1053.16,681.83 1054.45,680.61 1055.73,679.41 1057.02,678.26 1058.3,677.12 1059.59,676.01 1060.88,674.92 1062.16,673.86 1063.45,672.82 1064.73,671.81 1066.02,670.82 1067.3,669.86 1068.59,668.91 1069.87,667.99 1071.16,667.1 1072.45,666.23 1073.73,665.38 1075.02,664.55 1076.3,663.75 1077.59,662.97 1078.87,662.21 1080.16,661.47 1081.44,660.76 1082.73,660.07 1084.02,659.4 1085.3,658.76 1086.59,658.13 1087.87,657.53 1089.16,656.95 1090.44,656.39 1091.73,655.85 1093.01,655.33 1094.3,654.84 1095.59,654.37 1096.87,653.91 1098.16,653.48 1099.44,653.07 1100.73,652.68 1102.01,652.31 1103.3,651.96 1104.58,651.63 1105.87,651.32 1107.16,651.03 1108.44,650.76 1109.73,650.51 1111.01,650.27 1112.3,650.06 1113.58,649.87 1114.87,649.7 1116.15,649.55 1117.44,649.41 1118.73,649.3 1120.01,649.2 1121.3,649.12 1122.58,649.06 1123.87,649.02 1125.15,649 1126.44,648.99 1127.72,649.01 1129.01,649.04 1130.3,649.09 1131.58,649.16 1132.87,649.24 1134.15,649.35 1135.44,649.5 1136.72,649.69 1138.01,649.92 1139.29,650.18 1140.58,650.48 1141.87,650.81 1143.15,651.17 1144.44,651.57 1145.72,651.99 1147.01,652.45 1148.29,652.94 1149.58,653.45 1150.86,653.99 1152.15,654.55 1153.44,655.14 1154.72,655.76 1156.01,656.39 1157.29,657.05 1158.58,657.73 1159.86,658.43 1161.15,659.15 1162.43,659.88 1163.72,660.64 1165.01,661.41 1166.29,662.19 1167.58,662.99 1168.86,663.8 1170.15,664.62 1171.43,665.46 1172.72,666.3 1174,667.15 1175.29,668.01 1176.58,668.88 1177.86,669.75 1179.15,670.63 1180.43,671.51 1181.72,672.4 1183,673.28 1184.29,674.17 1185.57,675.06 1186.86,675.95 1188.15,676.83 1189.43,677.72 1190.72,678.59 1192,679.47 1193.29,680.33 1194.57,681.19 1195.86,682.05 1197.14,682.89 1198.43,683.72 1199.72,684.55 1201,685.36 1202.29,686.15 1203.57,686.94 1204.86,687.71 1206.14,688.46 1207.43,689.2 1208.71,689.91 1210,690.61" fill="none" stroke="#ED1C24" stroke-width="4.6" stroke-linejoin="round"/>
<rect x="741.7" y="878.3" width="11" height="11" fill="#ED1C24"/>
<rect x="818.83" y="955.13" width="11" height="11" fill="#ED1C24"/>
<rect x="895.97" y="918.12" width="11" height="11" fill="#ED1C24"/>
<rect x="973.1" y="784.35" width="11" height="11" fill="#ED1C24"/>
<rect x="1050.23" y="673.91" width="11" height="11" fill="#ED1C24"/>
<rect x="1127.37" y="643.74" width="11" height="11" fill="#ED1C24"/>
<rect x="1204.5" y="685.11" width="11" height="11" fill="#ED1C24"/>
</g>
<path d="M747.2 970.9v7.6M747.2 597.6v7.6M785.77 970.9v4M785.77 597.6v4M824.33 970.9v7.6M824.33 597.6v7.6M862.9 970.9v4M862.9 597.6v4M901.47 970.9v7.6M901.47 597.6v7.6M940.03 970.9v4M940.03 597.6v4M978.6 970.9v7.6M978.6 597.6v7.6M1017.17 970.9v4M1017.17 597.6v4M1055.73 970.9v7.6M1055.73 597.6v7.6M1094.3 970.9v4M1094.3 597.6v4M1132.87 970.9v7.6M1132.87 597.6v7.6M1171.43 970.9v4M1171.43 597.6v4M1210 970.9v7.6M1210 597.6v7.6M747.2 970.9h-7.6M1210 970.9h-7.6M747.2 939.79h-4M1210 939.79h-4M747.2 908.68h-7.6M1210 908.68h-7.6M747.2 877.58h-4M1210 877.58h-4M747.2 846.47h-7.6M1210 846.47h-7.6M747.2 815.36h-4M1210 815.36h-4M747.2 784.25h-7.6M1210 784.25h-7.6M747.2 753.14h-4M1210 753.14h-4M747.2 722.03h-7.6M1210 722.03h-7.6M747.2 690.92h-4M1210 690.92h-4M747.2 659.82h-7.6M1210 659.82h-7.6M747.2 628.71h-4M1210 628.71h-4M747.2 597.6h-7.6M1210 597.6h-7.6" stroke="#000" stroke-width="1.8" fill="none"/>
<rect x="747.2" y="597.6" width="462.8" height="373.3" fill="none" stroke="#000" stroke-width="1.9"/>
<g class="t" font-size="33" fill="#000"><text x="747.2" y="1007.4" text-anchor="middle">-45</text><text x="824.33" y="1007.4" text-anchor="middle">-30</text><text x="901.47" y="1007.4" text-anchor="middle">-15</text><text x="978.6" y="1007.4" text-anchor="middle">0</text><text x="1055.73" y="1007.4" text-anchor="middle">15</text><text x="1132.87" y="1007.4" text-anchor="middle">30</text><text x="1210" y="1007.4" text-anchor="middle">45</text><text x="735.2" y="980.1" text-anchor="end">-6</text><text x="735.2" y="917.88" text-anchor="end">-4</text><text x="735.2" y="855.67" text-anchor="end">-2</text><text x="735.2" y="793.45" text-anchor="end">0</text><text x="735.2" y="731.23" text-anchor="end">2</text><text x="735.2" y="669.02" text-anchor="end">4</text><text x="735.2" y="606.8" text-anchor="end">6</text></g>
<text class="t" transform="translate(95.9 478)" font-size="35.3" fill="#231F20" stroke="#231F20" stroke-width="0.35">Polarization Angle (φ) [degrees]</text>
<text class="t" transform="translate(25.1 347) rotate(-90)" font-size="35.4" fill="#231F20" stroke="#231F20" stroke-width="0.35">Power Ratio [dB]</text>
<text class="t" x="346.8" y="551.5" font-size="62.5" text-anchor="middle" fill="#231F20">(a)</text>
<text class="t" transform="translate(727.3 478.3)" font-size="35.3" fill="#231F20" stroke="#231F20" stroke-width="0.35">Polarization Angle (φ) [degrees]</text>
<text class="t" transform="translate(679 347.2) rotate(-90)" font-size="35.4" fill="#231F20" stroke="#231F20" stroke-width="0.35">Power Ratio [dB]</text>
<text class="t" x="972" y="551.2" font-size="62.5" text-anchor="middle" fill="#231F20">(b)</text>
<text class="t" transform="translate(88.3 1061.7)" font-size="35.3" fill="#231F20" stroke="#231F20" stroke-width="0.35">Polarization Angle (φ) [degrees]</text>
<text class="t" transform="translate(24.9 930.4) rotate(-90)" font-size="35.4" fill="#231F20" stroke="#231F20" stroke-width="0.35">Power Ratio [dB]</text>
<text class="t" x="337.4" y="1136.2" font-size="62.5" text-anchor="middle" fill="#231F20">(c)</text>
<text class="t" transform="translate(742 1062)" font-size="35.3" fill="#231F20" stroke="#231F20" stroke-width="0.35">Polarization Angle (φ) [degrees]</text>
<text class="t" transform="translate(679 930.8) rotate(-90)" font-size="35.4" fill="#231F20" stroke="#231F20" stroke-width="0.35">Power Ratio [dB]</text>
<text class="t" x="984" y="1136.2" font-size="62.5" text-anchor="middle" fill="#231F20">(d)</text>
<line x1="1280.1" y1="470.8" x2="1344" y2="470.8" stroke="#ED1C24" stroke-width="6.6" stroke-linecap="round"/>
<rect x="1304.3" y="463.8" width="15.7" height="15.1" rx="2.6" fill="#ED1C24"/>
<text class="t" x="1357" y="477" font-size="48.2" fill="#000" stroke="#000" stroke-width="0.7">Measurement</text>
<line x1="1290.1" y1="536.7" x2="1304.7" y2="536.7" stroke="#000" stroke-width="6.9" stroke-linecap="round"/>
<line x1="1324.9" y1="536.7" x2="1339.6" y2="536.7" stroke="#000" stroke-width="6.9" stroke-linecap="round"/>
<text class="t" x="1360.2" y="548.1" font-size="51.5" fill="#000" stroke="#000" stroke-width="0.7">Simulation</text>
</svg></body></html>
